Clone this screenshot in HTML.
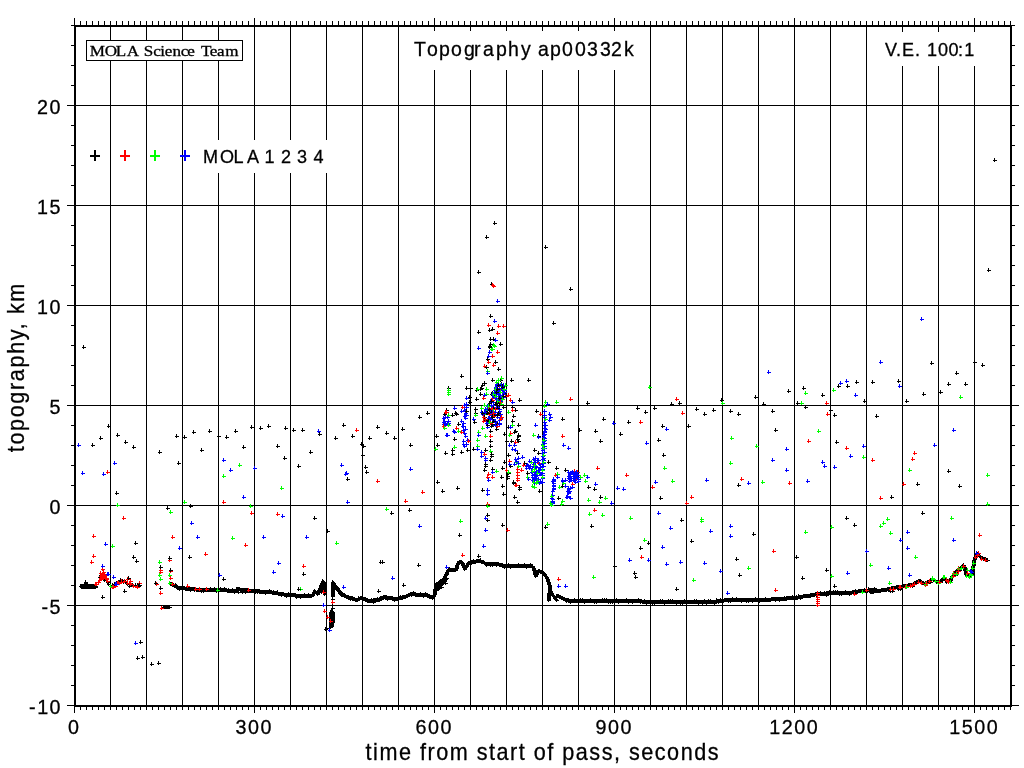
<!DOCTYPE html>
<html><head><meta charset="utf-8"><title>Topography ap00332k</title>
<style>html,body{margin:0;padding:0;background:#fff;}svg{display:block;}</style></head>
<body><svg width="1024" height="768" viewBox="0 0 1024 768" shape-rendering="crispEdges"><path d="M110.5 27V705 M146.5 27V705 M182.5 27V705 M218.5 27V705 M254.5 27V705 M290.5 27V705 M326.5 27V705 M362.5 27V705 M398.5 27V705 M434.5 27V705 M470.5 27V705 M506.5 27V705 M542.5 27V705 M578.5 27V705 M614.5 27V705 M650.5 27V705 M686.5 27V705 M722.5 27V705 M758.5 27V705 M794.5 27V705 M830.5 27V705 M866.5 27V705 M902.5 27V705 M938.5 27V705 M974.5 27V705 M76 105.5H1010 M76 205.5H1010 M76 305.5H1010 M76 405.5H1010 M76 505.5H1010 M76 605.5H1010" stroke="#000" stroke-width="1" fill="none"/><path d="M74.5 18V25 M74.5 707V713 M80.5 21V25 M80.5 707V710 M86.5 21V25 M86.5 707V710 M92.5 21V25 M92.5 707V710 M98.5 21V25 M98.5 707V710 M104.5 21V25 M104.5 707V710 M110.5 21V25 M110.5 707V710 M116.5 21V25 M116.5 707V710 M122.5 21V25 M122.5 707V710 M128.5 21V25 M128.5 707V710 M134.5 21V25 M134.5 707V710 M140.5 21V25 M140.5 707V710 M146.5 21V25 M146.5 707V710 M152.5 21V25 M152.5 707V710 M158.5 21V25 M158.5 707V710 M164.5 21V25 M164.5 707V710 M170.5 21V25 M170.5 707V710 M176.5 21V25 M176.5 707V710 M182.5 21V25 M182.5 707V710 M188.5 21V25 M188.5 707V710 M194.5 21V25 M194.5 707V710 M200.5 21V25 M200.5 707V710 M206.5 21V25 M206.5 707V710 M212.5 21V25 M212.5 707V710 M218.5 21V25 M218.5 707V710 M224.5 21V25 M224.5 707V710 M230.5 21V25 M230.5 707V710 M236.5 21V25 M236.5 707V710 M242.5 21V25 M242.5 707V710 M248.5 21V25 M248.5 707V710 M254.5 18V25 M254.5 707V713 M260.5 21V25 M260.5 707V710 M266.5 21V25 M266.5 707V710 M272.5 21V25 M272.5 707V710 M278.5 21V25 M278.5 707V710 M284.5 21V25 M284.5 707V710 M290.5 21V25 M290.5 707V710 M296.5 21V25 M296.5 707V710 M302.5 21V25 M302.5 707V710 M308.5 21V25 M308.5 707V710 M314.5 21V25 M314.5 707V710 M320.5 21V25 M320.5 707V710 M326.5 21V25 M326.5 707V710 M332.5 21V25 M332.5 707V710 M338.5 21V25 M338.5 707V710 M344.5 21V25 M344.5 707V710 M350.5 21V25 M350.5 707V710 M356.5 21V25 M356.5 707V710 M362.5 21V25 M362.5 707V710 M368.5 21V25 M368.5 707V710 M374.5 21V25 M374.5 707V710 M380.5 21V25 M380.5 707V710 M386.5 21V25 M386.5 707V710 M392.5 21V25 M392.5 707V710 M398.5 21V25 M398.5 707V710 M404.5 21V25 M404.5 707V710 M410.5 21V25 M410.5 707V710 M416.5 21V25 M416.5 707V710 M422.5 21V25 M422.5 707V710 M428.5 21V25 M428.5 707V710 M434.5 18V25 M434.5 707V713 M440.5 21V25 M440.5 707V710 M446.5 21V25 M446.5 707V710 M452.5 21V25 M452.5 707V710 M458.5 21V25 M458.5 707V710 M464.5 21V25 M464.5 707V710 M470.5 21V25 M470.5 707V710 M476.5 21V25 M476.5 707V710 M482.5 21V25 M482.5 707V710 M488.5 21V25 M488.5 707V710 M494.5 21V25 M494.5 707V710 M500.5 21V25 M500.5 707V710 M506.5 21V25 M506.5 707V710 M512.5 21V25 M512.5 707V710 M518.5 21V25 M518.5 707V710 M524.5 21V25 M524.5 707V710 M530.5 21V25 M530.5 707V710 M536.5 21V25 M536.5 707V710 M542.5 21V25 M542.5 707V710 M548.5 21V25 M548.5 707V710 M554.5 21V25 M554.5 707V710 M560.5 21V25 M560.5 707V710 M566.5 21V25 M566.5 707V710 M572.5 21V25 M572.5 707V710 M578.5 21V25 M578.5 707V710 M584.5 21V25 M584.5 707V710 M590.5 21V25 M590.5 707V710 M596.5 21V25 M596.5 707V710 M602.5 21V25 M602.5 707V710 M608.5 21V25 M608.5 707V710 M614.5 18V25 M614.5 707V713 M620.5 21V25 M620.5 707V710 M626.5 21V25 M626.5 707V710 M632.5 21V25 M632.5 707V710 M638.5 21V25 M638.5 707V710 M644.5 21V25 M644.5 707V710 M650.5 21V25 M650.5 707V710 M656.5 21V25 M656.5 707V710 M662.5 21V25 M662.5 707V710 M668.5 21V25 M668.5 707V710 M674.5 21V25 M674.5 707V710 M680.5 21V25 M680.5 707V710 M686.5 21V25 M686.5 707V710 M692.5 21V25 M692.5 707V710 M698.5 21V25 M698.5 707V710 M704.5 21V25 M704.5 707V710 M710.5 21V25 M710.5 707V710 M716.5 21V25 M716.5 707V710 M722.5 21V25 M722.5 707V710 M728.5 21V25 M728.5 707V710 M734.5 21V25 M734.5 707V710 M740.5 21V25 M740.5 707V710 M746.5 21V25 M746.5 707V710 M752.5 21V25 M752.5 707V710 M758.5 21V25 M758.5 707V710 M764.5 21V25 M764.5 707V710 M770.5 21V25 M770.5 707V710 M776.5 21V25 M776.5 707V710 M782.5 21V25 M782.5 707V710 M788.5 21V25 M788.5 707V710 M794.5 18V25 M794.5 707V713 M800.5 21V25 M800.5 707V710 M806.5 21V25 M806.5 707V710 M812.5 21V25 M812.5 707V710 M818.5 21V25 M818.5 707V710 M824.5 21V25 M824.5 707V710 M830.5 21V25 M830.5 707V710 M836.5 21V25 M836.5 707V710 M842.5 21V25 M842.5 707V710 M848.5 21V25 M848.5 707V710 M854.5 21V25 M854.5 707V710 M860.5 21V25 M860.5 707V710 M866.5 21V25 M866.5 707V710 M872.5 21V25 M872.5 707V710 M878.5 21V25 M878.5 707V710 M884.5 21V25 M884.5 707V710 M890.5 21V25 M890.5 707V710 M896.5 21V25 M896.5 707V710 M902.5 21V25 M902.5 707V710 M908.5 21V25 M908.5 707V710 M914.5 21V25 M914.5 707V710 M920.5 21V25 M920.5 707V710 M926.5 21V25 M926.5 707V710 M932.5 21V25 M932.5 707V710 M938.5 21V25 M938.5 707V710 M944.5 21V25 M944.5 707V710 M950.5 21V25 M950.5 707V710 M956.5 21V25 M956.5 707V710 M962.5 21V25 M962.5 707V710 M968.5 21V25 M968.5 707V710 M974.5 18V25 M974.5 707V713 M980.5 21V25 M980.5 707V710 M986.5 21V25 M986.5 707V710 M992.5 21V25 M992.5 707V710 M998.5 21V25 M998.5 707V710 M1004.5 21V25 M1004.5 707V710 M1010.5 21V25 M1010.5 707V710 M67 705.5H74 M1012 705.5H1019 M71 685.5H74 M1012 685.5H1015 M71 665.5H74 M1012 665.5H1015 M71 645.5H74 M1012 645.5H1015 M71 625.5H74 M1012 625.5H1015 M67 605.5H74 M1012 605.5H1019 M71 585.5H74 M1012 585.5H1015 M71 565.5H74 M1012 565.5H1015 M71 545.5H74 M1012 545.5H1015 M71 525.5H74 M1012 525.5H1015 M67 505.5H74 M1012 505.5H1019 M71 485.5H74 M1012 485.5H1015 M71 465.5H74 M1012 465.5H1015 M71 445.5H74 M1012 445.5H1015 M71 425.5H74 M1012 425.5H1015 M67 405.5H74 M1012 405.5H1019 M71 385.5H74 M1012 385.5H1015 M71 365.5H74 M1012 365.5H1015 M71 345.5H74 M1012 345.5H1015 M71 325.5H74 M1012 325.5H1015 M67 305.5H74 M1012 305.5H1019 M71 285.5H74 M1012 285.5H1015 M71 265.5H74 M1012 265.5H1015 M71 245.5H74 M1012 245.5H1015 M71 225.5H74 M1012 225.5H1015 M67 205.5H74 M1012 205.5H1019 M71 185.5H74 M1012 185.5H1015 M71 165.5H74 M1012 165.5H1015 M71 145.5H74 M1012 145.5H1015 M71 125.5H74 M1012 125.5H1015 M67 105.5H74 M1012 105.5H1019 M71 85.5H74 M1012 85.5H1015 M71 65.5H74 M1012 65.5H1015 M71 45.5H74 M1012 45.5H1015 M71 25.5H74 M1012 25.5H1015" stroke="#000" stroke-width="1" fill="none"/><rect x="404" y="31" width="242" height="39" fill="#fff"/><rect x="875" y="32" width="110" height="34" fill="#fff"/><rect x="198" y="140" width="142" height="33" fill="#fff"/><path d="M169 584.5h4M170.5 582v4M170 584.5h4M171.5 582v4M171 585.5h4M172.5 583v4M172 585.5h4M173.5 583v4M173 586.5h4M174.5 584v4M174 586.5h4M175.5 584v4M175 586.5h4M176.5 584v4M176 587.5h4M177.5 585v4M177 588.5h4M178.5 586v4M178 588.5h4M179.5 586v4M179 588.5h4M180.5 586v4M180 588.5h4M181.5 586v4M181 588.5h4M182.5 586v4M182 588.5h4M183.5 586v4M183 588.5h4M184.5 586v4M184 589.5h4M185.5 587v4M185 589.5h4M186.5 587v4M186 589.5h4M187.5 587v4M187 589.5h4M188.5 587v4M188 589.5h4M189.5 587v4M189 589.5h4M190.5 587v4M190 589.5h4M191.5 587v4M191 589.5h4M192.5 587v4M192 589.5h4M193.5 587v4M193 589.5h4M194.5 587v4M194 589.5h4M195.5 587v4M195 590.5h4M196.5 588v4M196 590.5h4M197.5 588v4M197 590.5h4M198.5 588v4M198 590.5h4M199.5 588v4M199 590.5h4M200.5 588v4M200 590.5h4M201.5 588v4M201 590.5h4M202.5 588v4M202 590.5h4M203.5 588v4M203 590.5h4M204.5 588v4M204 590.5h4M205.5 588v4M205 590.5h4M206.5 588v4M206 590.5h4M207.5 588v4M207 590.5h4M208.5 588v4M208 590.5h4M209.5 588v4M209 590.5h4M210.5 588v4M210 590.5h4M211.5 588v4M211 590.5h4M212.5 588v4M212 590.5h4M213.5 588v4M213 590.5h4M214.5 588v4M214 590.5h4M215.5 588v4M215 590.5h4M216.5 588v4M216 590.5h4M217.5 588v4M217 590.5h4M218.5 588v4M218 590.5h4M219.5 588v4M219 590.5h4M220.5 588v4M220 590.5h4M221.5 588v4M221 590.5h4M222.5 588v4M222 590.5h4M223.5 588v4M223 590.5h4M224.5 588v4M224 590.5h4M225.5 588v4M225 590.5h4M226.5 588v4M226 591.5h4M227.5 589v4M227 591.5h4M228.5 589v4M228 591.5h4M229.5 589v4M229 591.5h4M230.5 589v4M230 591.5h4M231.5 589v4M231 591.5h4M232.5 589v4M232 591.5h4M233.5 589v4M233 591.5h4M234.5 589v4M234 591.5h4M235.5 589v4M235 591.5h4M236.5 589v4M162 607.5h4M163.5 605v4M163 607.5h4M164.5 605v4M164 607.5h4M165.5 605v4M165 607.5h4M166.5 605v4M166 607.5h4M167.5 605v4M167 607.5h4M168.5 605v4M168 607.5h4M169.5 605v4M235 589.5h4M236.5 587v4M236 589.5h4M237.5 587v4M237 589.5h4M238.5 587v4M238 589.5h4M239.5 587v4M239 590.5h4M240.5 588v4M240 590.5h4M241.5 588v4M241 590.5h4M242.5 588v4M242 590.5h4M243.5 588v4M243 590.5h4M244.5 588v4M244 590.5h4M245.5 588v4M245 590.5h4M246.5 588v4M246 590.5h4M247.5 588v4M247 591.5h4M248.5 589v4M248 591.5h4M249.5 589v4M249 591.5h4M250.5 589v4M250 591.5h4M251.5 589v4M251 591.5h4M252.5 589v4M252 591.5h4M253.5 589v4M253 591.5h4M254.5 589v4M254 591.5h4M255.5 589v4M255 591.5h4M256.5 589v4M256 591.5h4M257.5 589v4M257 591.5h4M258.5 589v4M258 592.5h4M259.5 590v4M259 592.5h4M260.5 590v4M260 592.5h4M261.5 590v4M261 592.5h4M262.5 590v4M262 592.5h4M263.5 590v4M263 592.5h4M264.5 590v4M264 592.5h4M265.5 590v4M265 592.5h4M266.5 590v4M266 592.5h4M267.5 590v4M267 592.5h4M268.5 590v4M268 592.5h4M269.5 590v4M269 592.5h4M270.5 590v4M270 592.5h4M271.5 590v4M271 593.5h4M272.5 591v4M272 593.5h4M273.5 591v4M273 593.5h4M274.5 591v4M274 593.5h4M275.5 591v4M275 593.5h4M276.5 591v4M276 593.5h4M277.5 591v4M277 594.5h4M278.5 592v4M278 594.5h4M279.5 592v4M279 594.5h4M280.5 592v4M280 594.5h4M281.5 592v4M281 594.5h4M282.5 592v4M282 594.5h4M283.5 592v4M283 595.5h4M284.5 593v4M284 595.5h4M285.5 593v4M285 595.5h4M286.5 593v4M286 595.5h4M287.5 593v4M287 595.5h4M288.5 593v4M288 595.5h4M289.5 593v4M289 595.5h4M290.5 593v4M290 595.5h4M291.5 593v4M291 595.5h4M292.5 593v4M292 595.5h4M293.5 593v4M293 595.5h4M294.5 593v4M294 595.5h4M295.5 593v4M295 596.5h4M296.5 594v4M296 596.5h4M297.5 594v4M297 596.5h4M298.5 594v4M298 596.5h4M299.5 594v4M299 596.5h4M300.5 594v4M300 596.5h4M301.5 594v4M301 596.5h4M302.5 594v4M302 596.5h4M303.5 594v4M303 596.5h4M304.5 594v4M304 596.5h4M305.5 594v4M305 596.5h4M306.5 594v4M306 596.5h4M307.5 594v4M307 596.5h4M308.5 594v4M308 596.5h4M309.5 594v4M309 596.5h4M310.5 594v4M310 596.5h4M311.5 594v4M311 595.5h4M312.5 593v4M311 594.5h4M312.5 592v4M312 593.5h4M313.5 591v4M312 592.5h4M313.5 590v4M313 591.5h4M314.5 589v4M314 592.5h4M315.5 590v4M315 593.5h4M316.5 591v4M316 594.5h4M317.5 592v4M316 593.5h4M317.5 591v4M317 592.5h4M318.5 590v4M317 591.5h4M318.5 589v4M317 590.5h4M318.5 588v4M318 589.5h4M319.5 587v4M318 588.5h4M319.5 586v4M319 587.5h4M320.5 585v4M319 586.5h4M320.5 584v4M319 585.5h4M320.5 583v4M320 584.5h4M321.5 582v4M320 583.5h4M321.5 581v4M321 582.5h4M322.5 580v4M321 581.5h4M322.5 579v4M322 582.5h4M323.5 580v4M323 583.5h4M324.5 581v4M323 584.5h4M324.5 582v4M323 585.5h4M324.5 583v4M323 586.5h4M324.5 584v4M323 587.5h4M324.5 585v4M323 588.5h4M324.5 586v4M323 589.5h4M324.5 587v4M323 590.5h4M324.5 588v4M323 591.5h4M324.5 589v4M323 592.5h4M324.5 590v4M323 593.5h4M324.5 591v4M323 594.5h4M324.5 592v4M320 592.5h4M321.5 590v4M320 591.5h4M321.5 589v4M320 590.5h4M321.5 588v4M320 589.5h4M321.5 587v4M320 588.5h4M321.5 586v4M320 587.5h4M321.5 585v4M320 586.5h4M321.5 584v4M320 585.5h4M321.5 583v4M320 584.5h4M321.5 582v4M321 583.5h4M322.5 581v4M322 582.5h4M323.5 580v4M322 583.5h4M323.5 581v4M322 584.5h4M323.5 582v4M322 585.5h4M323.5 583v4M322 586.5h4M323.5 584v4M322 587.5h4M323.5 585v4M322 588.5h4M323.5 586v4M322 589.5h4M323.5 587v4M322 590.5h4M323.5 588v4M322 591.5h4M323.5 589v4M322 592.5h4M323.5 590v4M331 582.5h4M332.5 580v4M331 583.5h4M332.5 581v4M331 584.5h4M332.5 582v4M331 585.5h4M332.5 583v4M331 586.5h4M332.5 584v4M331 587.5h4M332.5 585v4M331 588.5h4M332.5 586v4M331 589.5h4M332.5 587v4M331 590.5h4M332.5 588v4M331 591.5h4M332.5 589v4M331 592.5h4M332.5 590v4M331 593.5h4M332.5 591v4M331 594.5h4M332.5 592v4M331 595.5h4M332.5 593v4M331 596.5h4M332.5 594v4M332 583.5h4M333.5 581v4M332 584.5h4M333.5 582v4M332 585.5h4M333.5 583v4M333 586.5h4M334.5 584v4M333 587.5h4M334.5 585v4M333 588.5h4M334.5 586v4M333 589.5h4M334.5 587v4M331 596.5h4M332.5 594v4M331 599.5h4M332.5 597v4M331 602.5h4M332.5 600v4M331 605.5h4M332.5 603v4M331 608.5h4M332.5 606v4M330 611.5h4M331.5 609v4M330 612.5h4M331.5 610v4M330 613.5h4M331.5 611v4M330 614.5h4M331.5 612v4M330 615.5h4M331.5 613v4M330 616.5h4M331.5 614v4M330 617.5h4M331.5 615v4M330 618.5h4M331.5 616v4M330 619.5h4M331.5 617v4M330 620.5h4M331.5 618v4M330 621.5h4M331.5 619v4M330 622.5h4M331.5 620v4M330 623.5h4M331.5 621v4M330 624.5h4M331.5 622v4M330 625.5h4M331.5 623v4M330 626.5h4M331.5 624v4M329 612.5h4M330.5 610v4M329 613.5h4M330.5 611v4M329 614.5h4M330.5 612v4M329 615.5h4M330.5 613v4M329 616.5h4M330.5 614v4M329 617.5h4M330.5 615v4M329 618.5h4M330.5 616v4M329 619.5h4M330.5 617v4M329 620.5h4M330.5 618v4M329 621.5h4M330.5 619v4M329 622.5h4M330.5 620v4M329 623.5h4M330.5 621v4M329 624.5h4M330.5 622v4M329 625.5h4M330.5 623v4M329 626.5h4M330.5 624v4M329 627.5h4M330.5 625v4M331 612.5h4M332.5 610v4M331 613.5h4M332.5 611v4M331 614.5h4M332.5 612v4M331 615.5h4M332.5 613v4M331 616.5h4M332.5 614v4M331 617.5h4M332.5 615v4M331 618.5h4M332.5 616v4M331 619.5h4M332.5 617v4M331 620.5h4M332.5 618v4M331 621.5h4M332.5 619v4M331 622.5h4M332.5 620v4M331 586.5h4M332.5 584v4M332 587.5h4M333.5 585v4M333 588.5h4M334.5 586v4M334 588.5h4M335.5 586v4M335 589.5h4M336.5 587v4M336 590.5h4M337.5 588v4M337 591.5h4M338.5 589v4M338 592.5h4M339.5 590v4M339 593.5h4M340.5 591v4M340 594.5h4M341.5 592v4M341 595.5h4M342.5 593v4M342 595.5h4M343.5 593v4M343 596.5h4M344.5 594v4M344 596.5h4M345.5 594v4M345 597.5h4M346.5 595v4M346 597.5h4M347.5 595v4M347 598.5h4M348.5 596v4M348 598.5h4M349.5 596v4M349 598.5h4M350.5 596v4M350 598.5h4M351.5 596v4M351 599.5h4M352.5 597v4M352 599.5h4M353.5 597v4M353 599.5h4M354.5 597v4M354 600.5h4M355.5 598v4M355 600.5h4M356.5 598v4M356 600.5h4M357.5 598v4M357 599.5h4M358.5 597v4M358 599.5h4M359.5 597v4M359 598.5h4M360.5 596v4M360 598.5h4M361.5 596v4M361 598.5h4M362.5 596v4M362 599.5h4M363.5 597v4M363 599.5h4M364.5 597v4M364 600.5h4M365.5 598v4M365 600.5h4M366.5 598v4M366 600.5h4M367.5 598v4M367 601.5h4M368.5 599v4M368 601.5h4M369.5 599v4M369 601.5h4M370.5 599v4M370 601.5h4M371.5 599v4M371 601.5h4M372.5 599v4M372 600.5h4M373.5 598v4M373 600.5h4M374.5 598v4M374 600.5h4M375.5 598v4M375 600.5h4M376.5 598v4M376 600.5h4M377.5 598v4M377 600.5h4M378.5 598v4M378 599.5h4M379.5 597v4M379 598.5h4M380.5 596v4M380 598.5h4M381.5 596v4M381 598.5h4M382.5 596v4M382 597.5h4M383.5 595v4M383 597.5h4M384.5 595v4M384 597.5h4M385.5 595v4M385 597.5h4M386.5 595v4M386 598.5h4M387.5 596v4M387 598.5h4M388.5 596v4M388 598.5h4M389.5 596v4M389 598.5h4M390.5 596v4M390 598.5h4M391.5 596v4M391 598.5h4M392.5 596v4M392 599.5h4M393.5 597v4M393 599.5h4M394.5 597v4M394 599.5h4M395.5 597v4M395 599.5h4M396.5 597v4M333 585.5h4M334.5 583v4M334 586.5h4M335.5 584v4M335 587.5h4M336.5 585v4M336 588.5h4M337.5 586v4M336 589.5h4M337.5 587v4M337 590.5h4M338.5 588v4M338 591.5h4M339.5 589v4M339 592.5h4M340.5 590v4M395 599.5h4M396.5 597v4M396 599.5h4M397.5 597v4M397 598.5h4M398.5 596v4M398 598.5h4M399.5 596v4M399 598.5h4M400.5 596v4M400 598.5h4M401.5 596v4M401 598.5h4M402.5 596v4M402 597.5h4M403.5 595v4M403 597.5h4M404.5 595v4M404 597.5h4M405.5 595v4M405 596.5h4M406.5 594v4M406 596.5h4M407.5 594v4M407 595.5h4M408.5 593v4M408 595.5h4M409.5 593v4M409 594.5h4M410.5 592v4M410 594.5h4M411.5 592v4M411 594.5h4M412.5 592v4M412 594.5h4M413.5 592v4M413 594.5h4M414.5 592v4M414 594.5h4M415.5 592v4M415 595.5h4M416.5 593v4M416 595.5h4M417.5 593v4M417 595.5h4M418.5 593v4M418 595.5h4M419.5 593v4M419 595.5h4M420.5 593v4M420 595.5h4M421.5 593v4M421 595.5h4M422.5 593v4M422 595.5h4M423.5 593v4M423 595.5h4M424.5 593v4M424 595.5h4M425.5 593v4M425 595.5h4M426.5 593v4M426 595.5h4M427.5 593v4M427 596.5h4M428.5 594v4M428 596.5h4M429.5 594v4M429 597.5h4M430.5 595v4M430 597.5h4M431.5 595v4M431 598.5h4M432.5 596v4M431 597.5h4M432.5 595v4M432 596.5h4M433.5 594v4M432 595.5h4M433.5 593v4M433 594.5h4M434.5 592v4M433 593.5h4M434.5 591v4M433 592.5h4M434.5 590v4M433 591.5h4M434.5 589v4M433 590.5h4M434.5 588v4M433 589.5h4M434.5 587v4M434 588.5h4M435.5 586v4M434 587.5h4M435.5 585v4M434 586.5h4M435.5 584v4M434 585.5h4M435.5 583v4M435 584.5h4M436.5 582v4M436 584.5h4M437.5 582v4M437 583.5h4M438.5 581v4M438 582.5h4M439.5 580v4M439 581.5h4M440.5 579v4M440 581.5h4M441.5 579v4M441 580.5h4M442.5 578v4M442 579.5h4M443.5 577v4M443 578.5h4M444.5 576v4M443 577.5h4M444.5 575v4M443 576.5h4M444.5 574v4M444 575.5h4M445.5 573v4M445 574.5h4M446.5 572v4M445 573.5h4M446.5 571v4M445 572.5h4M446.5 570v4M446 571.5h4M447.5 569v4M447 570.5h4M448.5 568v4M447 569.5h4M448.5 567v4M448 569.5h4M449.5 567v4M449 570.5h4M450.5 568v4M450 570.5h4M451.5 568v4M451 570.5h4M452.5 568v4M452 570.5h4M453.5 568v4M453 570.5h4M454.5 568v4M454 570.5h4M455.5 568v4M454 569.5h4M455.5 567v4M455 568.5h4M456.5 566v4M455 567.5h4M456.5 565v4M455 566.5h4M456.5 564v4M455 565.5h4M456.5 563v4M456 564.5h4M457.5 562v4M456 563.5h4M457.5 561v4M457 563.5h4M458.5 561v4M458 562.5h4M459.5 560v4M459 562.5h4M460.5 560v4M460 562.5h4M461.5 560v4M461 563.5h4M462.5 561v4M461 564.5h4M462.5 562v4M461 565.5h4M462.5 563v4M462 566.5h4M463.5 564v4M462 567.5h4M463.5 565v4M463 568.5h4M464.5 566v4M463 569.5h4M464.5 567v4M463 568.5h4M464.5 566v4M464 567.5h4M465.5 565v4M465 566.5h4M466.5 564v4M465 565.5h4M466.5 563v4M466 564.5h4M467.5 562v4M467 563.5h4M468.5 561v4M468 563.5h4M469.5 561v4M469 562.5h4M470.5 560v4M470 562.5h4M471.5 560v4M471 562.5h4M472.5 560v4M472 562.5h4M473.5 560v4M473 562.5h4M474.5 560v4M474 562.5h4M475.5 560v4M475 561.5h4M476.5 559v4M476 561.5h4M477.5 559v4M477 561.5h4M478.5 559v4M478 561.5h4M479.5 559v4M479 561.5h4M480.5 559v4M480 562.5h4M481.5 560v4M481 562.5h4M482.5 560v4M482 562.5h4M483.5 560v4M483 563.5h4M484.5 561v4M484 564.5h4M485.5 562v4M485 564.5h4M486.5 562v4M486 564.5h4M487.5 562v4M487 564.5h4M488.5 562v4M488 564.5h4M489.5 562v4M489 564.5h4M490.5 562v4M490 564.5h4M491.5 562v4M491 564.5h4M492.5 562v4M492 564.5h4M493.5 562v4M493 564.5h4M494.5 562v4M494 564.5h4M495.5 562v4M495 564.5h4M496.5 562v4M496 564.5h4M497.5 562v4M497 564.5h4M498.5 562v4M498 565.5h4M499.5 563v4M499 565.5h4M500.5 563v4M500 565.5h4M501.5 563v4M501 566.5h4M502.5 564v4M502 566.5h4M503.5 564v4M503 566.5h4M504.5 564v4M504 566.5h4M505.5 564v4M505 566.5h4M506.5 564v4M506 566.5h4M507.5 564v4M507 566.5h4M508.5 564v4M508 566.5h4M509.5 564v4M509 566.5h4M510.5 564v4M510 566.5h4M511.5 564v4M511 566.5h4M512.5 564v4M512 566.5h4M513.5 564v4M513 566.5h4M514.5 564v4M514 566.5h4M515.5 564v4M515 566.5h4M516.5 564v4M516 566.5h4M517.5 564v4M517 566.5h4M518.5 564v4M518 566.5h4M519.5 564v4M519 566.5h4M520.5 564v4M520 566.5h4M521.5 564v4M521 566.5h4M522.5 564v4M522 566.5h4M523.5 564v4M523 566.5h4M524.5 564v4M524 566.5h4M525.5 564v4M525 566.5h4M526.5 564v4M526 566.5h4M527.5 564v4M527 566.5h4M528.5 564v4M528 566.5h4M529.5 564v4M529 566.5h4M530.5 564v4M530 566.5h4M531.5 564v4M531 566.5h4M532.5 564v4M531 567.5h4M532.5 565v4M532 568.5h4M533.5 566v4M532 569.5h4M533.5 567v4M532 570.5h4M533.5 568v4M533 571.5h4M534.5 569v4M533 572.5h4M534.5 570v4M533 573.5h4M534.5 571v4M533 574.5h4M534.5 572v4M534 575.5h4M535.5 573v4M534 576.5h4M535.5 574v4M534 575.5h4M535.5 573v4M535 574.5h4M536.5 572v4M535 573.5h4M536.5 571v4M535 572.5h4M536.5 570v4M536 572.5h4M537.5 570v4M537 571.5h4M538.5 569v4M538 571.5h4M539.5 569v4M539 572.5h4M540.5 570v4M540 572.5h4M541.5 570v4M541 572.5h4M542.5 570v4M542 573.5h4M543.5 571v4M543 574.5h4M544.5 572v4M543 575.5h4M544.5 573v4M544 576.5h4M545.5 574v4M545 577.5h4M546.5 575v4M545 578.5h4M546.5 576v4M546 579.5h4M547.5 577v4M546 580.5h4M547.5 578v4M546 581.5h4M547.5 579v4M547 582.5h4M548.5 580v4M547 583.5h4M548.5 581v4M547 584.5h4M548.5 582v4M548 585.5h4M549.5 583v4M548 586.5h4M549.5 584v4M548 587.5h4M549.5 585v4M548 588.5h4M549.5 586v4M548 589.5h4M549.5 587v4M548 590.5h4M549.5 588v4M548 591.5h4M549.5 589v4M548 592.5h4M549.5 590v4M547 593.5h4M548.5 591v4M547 594.5h4M548.5 592v4M547 595.5h4M548.5 593v4M547 596.5h4M548.5 594v4M547 597.5h4M548.5 595v4M547 598.5h4M548.5 596v4M547 599.5h4M548.5 597v4M547 600.5h4M548.5 598v4M435 590.5h4M436.5 588v4M436 589.5h4M437.5 587v4M437 588.5h4M438.5 586v4M437 587.5h4M438.5 585v4M438 586.5h4M439.5 584v4M439 585.5h4M440.5 583v4M440 584.5h4M441.5 582v4M441 583.5h4M442.5 581v4M442 582.5h4M443.5 580v4M443 581.5h4M444.5 579v4M443 580.5h4M444.5 578v4M444 579.5h4M445.5 577v4M445 578.5h4M446.5 576v4M548 590.5h4M549.5 588v4M549 591.5h4M550.5 589v4M549 592.5h4M550.5 590v4M550 593.5h4M551.5 591v4M550 594.5h4M551.5 592v4M551 595.5h4M552.5 593v4M552 596.5h4M553.5 594v4M553 597.5h4M554.5 595v4M553 598.5h4M554.5 596v4M554 599.5h4M555.5 597v4M555 600.5h4M556.5 598v4" stroke="#000" stroke-width="1" fill="none"/><path d="M543 411.5h4M544.5 409v4M543 415.5h4M544.5 413v4M543 417.5h4M544.5 415v4M543 422.5h4M544.5 420v4M543 425.5h4M544.5 423v4M543 428.5h4M544.5 426v4M543 431.5h4M544.5 429v4M542 435.5h4M543.5 433v4M542 437.5h4M543.5 435v4M542 441.5h4M543.5 439v4M541 444.5h4M542.5 442v4M541 448.5h4M542.5 446v4M541 450.5h4M542.5 448v4M541 453.5h4M542.5 451v4M541 456.5h4M542.5 454v4M541 459.5h4M542.5 457v4M541 463.5h4M542.5 461v4M541 466.5h4M542.5 464v4M541 469.5h4M542.5 467v4M541 473.5h4M542.5 471v4M541 475.5h4M542.5 473v4M541 478.5h4M542.5 476v4M541 482.5h4M542.5 480v4M552 480.5h4M553.5 478v4M552 483.5h4M553.5 481v4M552 486.5h4M553.5 484v4M552 489.5h4M553.5 487v4M551 495.5h4M552.5 493v4M551 499.5h4M552.5 497v4" stroke="#00f" stroke-width="1" fill="none"/><path d="M555 596.5h4M556.5 594v4M556 596.5h4M557.5 594v4M557 596.5h4M558.5 594v4M558 597.5h4M559.5 595v4M559 597.5h4M560.5 595v4M560 598.5h4M561.5 596v4M561 598.5h4M562.5 596v4M562 599.5h4M563.5 597v4M563 599.5h4M564.5 597v4M564 600.5h4M565.5 598v4M565 600.5h4M566.5 598v4M566 600.5h4M567.5 598v4M567 600.5h4M568.5 598v4M568 601.5h4M569.5 599v4M569 601.5h4M570.5 599v4M570 601.5h4M571.5 599v4M571 601.5h4M572.5 599v4M572 601.5h4M573.5 599v4M573 601.5h4M574.5 599v4M574 601.5h4M575.5 599v4M575 601.5h4M576.5 599v4M576 601.5h4M577.5 599v4M577 601.5h4M578.5 599v4M578 601.5h4M579.5 599v4M579 601.5h4M580.5 599v4M580 601.5h4M581.5 599v4M581 601.5h4M582.5 599v4M582 601.5h4M583.5 599v4M583 601.5h4M584.5 599v4M584 601.5h4M585.5 599v4M585 601.5h4M586.5 599v4M586 601.5h4M587.5 599v4M587 601.5h4M588.5 599v4M588 601.5h4M589.5 599v4M589 601.5h4M590.5 599v4M590 601.5h4M591.5 599v4M591 601.5h4M592.5 599v4M592 601.5h4M593.5 599v4M593 601.5h4M594.5 599v4M594 601.5h4M595.5 599v4M595 601.5h4M596.5 599v4M596 601.5h4M597.5 599v4M597 601.5h4M598.5 599v4M598 601.5h4M599.5 599v4M599 601.5h4M600.5 599v4M600 601.5h4M601.5 599v4M601 601.5h4M602.5 599v4M602 601.5h4M603.5 599v4M603 601.5h4M604.5 599v4M604 601.5h4M605.5 599v4M605 601.5h4M606.5 599v4M606 601.5h4M607.5 599v4M607 601.5h4M608.5 599v4M608 601.5h4M609.5 599v4M609 601.5h4M610.5 599v4M610 601.5h4M611.5 599v4M611 601.5h4M612.5 599v4M612 601.5h4M613.5 599v4M613 601.5h4M614.5 599v4M614 601.5h4M615.5 599v4M615 601.5h4M616.5 599v4M616 601.5h4M617.5 599v4M617 601.5h4M618.5 599v4M618 601.5h4M619.5 599v4M619 601.5h4M620.5 599v4M620 601.5h4M621.5 599v4M621 601.5h4M622.5 599v4M622 601.5h4M623.5 599v4M623 601.5h4M624.5 599v4M624 601.5h4M625.5 599v4M625 601.5h4M626.5 599v4M626 601.5h4M627.5 599v4M627 601.5h4M628.5 599v4M628 601.5h4M629.5 599v4M629 601.5h4M630.5 599v4M630 601.5h4M631.5 599v4M631 601.5h4M632.5 599v4M632 601.5h4M633.5 599v4M633 601.5h4M634.5 599v4M634 601.5h4M635.5 599v4M635 601.5h4M636.5 599v4M636 601.5h4M637.5 599v4M637 601.5h4M638.5 599v4M638 601.5h4M639.5 599v4M639 601.5h4M640.5 599v4M640 601.5h4M641.5 599v4M641 602.5h4M642.5 600v4M642 602.5h4M643.5 600v4M643 602.5h4M644.5 600v4M644 602.5h4M645.5 600v4M645 602.5h4M646.5 600v4M646 602.5h4M647.5 600v4M647 602.5h4M648.5 600v4M648 602.5h4M649.5 600v4M649 602.5h4M650.5 600v4M650 602.5h4M651.5 600v4M651 602.5h4M652.5 600v4M652 602.5h4M653.5 600v4M653 602.5h4M654.5 600v4M654 602.5h4M655.5 600v4M655 602.5h4M656.5 600v4M656 602.5h4M657.5 600v4M657 602.5h4M658.5 600v4M658 602.5h4M659.5 600v4M659 602.5h4M660.5 600v4M660 602.5h4M661.5 600v4M661 602.5h4M662.5 600v4M662 602.5h4M663.5 600v4M663 602.5h4M664.5 600v4M664 602.5h4M665.5 600v4M665 602.5h4M666.5 600v4M666 602.5h4M667.5 600v4M667 602.5h4M668.5 600v4M668 602.5h4M669.5 600v4M669 602.5h4M670.5 600v4M670 602.5h4M671.5 600v4M671 602.5h4M672.5 600v4M672 602.5h4M673.5 600v4M673 602.5h4M674.5 600v4M674 602.5h4M675.5 600v4M675 602.5h4M676.5 600v4M676 602.5h4M677.5 600v4M677 602.5h4M678.5 600v4M678 602.5h4M679.5 600v4M679 602.5h4M680.5 600v4M680 602.5h4M681.5 600v4M681 602.5h4M682.5 600v4M682 602.5h4M683.5 600v4M683 602.5h4M684.5 600v4M684 602.5h4M685.5 600v4M685 602.5h4M686.5 600v4M686 602.5h4M687.5 600v4M687 602.5h4M688.5 600v4M688 602.5h4M689.5 600v4M689 602.5h4M690.5 600v4M690 602.5h4M691.5 600v4M691 602.5h4M692.5 600v4M692 602.5h4M693.5 600v4M693 602.5h4M694.5 600v4M694 602.5h4M695.5 600v4M695 602.5h4M696.5 600v4M696 602.5h4M697.5 600v4M697 602.5h4M698.5 600v4M698 602.5h4M699.5 600v4M699 602.5h4M700.5 600v4M700 602.5h4M701.5 600v4M701 602.5h4M702.5 600v4M702 602.5h4M703.5 600v4M703 602.5h4M704.5 600v4M704 602.5h4M705.5 600v4M705 602.5h4M706.5 600v4M706 602.5h4M707.5 600v4M707 602.5h4M708.5 600v4M708 602.5h4M709.5 600v4M709 602.5h4M710.5 600v4M710 602.5h4M711.5 600v4M711 602.5h4M712.5 600v4M712 602.5h4M713.5 600v4M713 602.5h4M714.5 600v4M714 602.5h4M715.5 600v4M715 602.5h4M716.5 600v4M565 601.5h4M566.5 599v4M567 601.5h4M568.5 599v4M569 602.5h4M570.5 600v4M571 601.5h4M572.5 599v4M573 600.5h4M574.5 598v4M575 601.5h4M576.5 599v4M577 600.5h4M578.5 598v4M579 600.5h4M580.5 598v4M581 600.5h4M582.5 598v4M583 602.5h4M584.5 600v4M585 601.5h4M586.5 599v4M587 601.5h4M588.5 599v4M589 600.5h4M590.5 598v4M591 601.5h4M592.5 599v4M593 602.5h4M594.5 600v4M595 602.5h4M596.5 600v4M597 601.5h4M598.5 599v4M599 601.5h4M600.5 599v4M601 600.5h4M602.5 598v4M603 600.5h4M604.5 598v4M605 600.5h4M606.5 598v4M607 602.5h4M608.5 600v4M609 602.5h4M610.5 600v4M611 602.5h4M612.5 600v4M613 601.5h4M614.5 599v4M615 600.5h4M616.5 598v4M617 602.5h4M618.5 600v4M619 601.5h4M620.5 599v4M621 601.5h4M622.5 599v4M623 601.5h4M624.5 599v4M625 600.5h4M626.5 598v4M627 602.5h4M628.5 600v4M629 601.5h4M630.5 599v4M631 602.5h4M632.5 600v4M633 601.5h4M634.5 599v4M635 601.5h4M636.5 599v4M637 600.5h4M638.5 598v4M639 602.5h4M640.5 600v4M641 602.5h4M642.5 600v4M643 601.5h4M644.5 599v4M645 603.5h4M646.5 601v4M647 602.5h4M648.5 600v4M649 602.5h4M650.5 600v4M651 603.5h4M652.5 601v4M653 603.5h4M654.5 601v4M655 602.5h4M656.5 600v4M657 602.5h4M658.5 600v4M659 601.5h4M660.5 599v4M661 601.5h4M662.5 599v4M663 603.5h4M664.5 601v4M665 602.5h4M666.5 600v4M667 601.5h4M668.5 599v4M669 601.5h4M670.5 599v4M671 601.5h4M672.5 599v4M673 602.5h4M674.5 600v4M675 603.5h4M676.5 601v4M677 602.5h4M678.5 600v4M679 603.5h4M680.5 601v4M681 603.5h4M682.5 601v4M683 601.5h4M684.5 599v4M685 603.5h4M686.5 601v4M687 602.5h4M688.5 600v4M689 602.5h4M690.5 600v4M691 602.5h4M692.5 600v4M693 601.5h4M694.5 599v4M695 601.5h4M696.5 599v4M697 603.5h4M698.5 601v4M699 602.5h4M700.5 600v4M701 603.5h4M702.5 601v4M703 601.5h4M704.5 599v4M705 603.5h4M706.5 601v4M707 601.5h4M708.5 599v4M709 601.5h4M710.5 599v4M711 602.5h4M712.5 600v4M713 603.5h4M714.5 601v4M715 601.5h4M716.5 599v4M716 601.5h4M717.5 599v4M717 601.5h4M718.5 599v4M718 601.5h4M719.5 599v4M719 601.5h4M720.5 599v4M720 601.5h4M721.5 599v4M721 601.5h4M722.5 599v4M722 601.5h4M723.5 599v4M723 600.5h4M724.5 598v4M724 600.5h4M725.5 598v4M725 600.5h4M726.5 598v4M726 600.5h4M727.5 598v4M727 600.5h4M728.5 598v4M728 600.5h4M729.5 598v4M729 600.5h4M730.5 598v4M730 600.5h4M731.5 598v4M731 600.5h4M732.5 598v4M732 600.5h4M733.5 598v4M733 600.5h4M734.5 598v4M734 600.5h4M735.5 598v4M735 600.5h4M736.5 598v4M736 600.5h4M737.5 598v4M737 600.5h4M738.5 598v4M738 600.5h4M739.5 598v4M739 600.5h4M740.5 598v4M740 600.5h4M741.5 598v4M741 600.5h4M742.5 598v4M742 600.5h4M743.5 598v4M743 600.5h4M744.5 598v4M744 600.5h4M745.5 598v4M745 600.5h4M746.5 598v4M746 600.5h4M747.5 598v4M747 600.5h4M748.5 598v4M748 600.5h4M749.5 598v4M749 600.5h4M750.5 598v4M750 600.5h4M751.5 598v4M751 600.5h4M752.5 598v4M752 600.5h4M753.5 598v4M753 600.5h4M754.5 598v4M754 600.5h4M755.5 598v4M755 600.5h4M756.5 598v4M756 600.5h4M757.5 598v4M757 600.5h4M758.5 598v4M758 600.5h4M759.5 598v4M759 600.5h4M760.5 598v4M760 600.5h4M761.5 598v4M761 600.5h4M762.5 598v4M762 600.5h4M763.5 598v4M763 600.5h4M764.5 598v4M764 600.5h4M765.5 598v4M765 600.5h4M766.5 598v4M766 600.5h4M767.5 598v4M767 600.5h4M768.5 598v4M768 600.5h4M769.5 598v4M769 600.5h4M770.5 598v4M770 599.5h4M771.5 597v4M771 599.5h4M772.5 597v4M772 599.5h4M773.5 597v4M773 599.5h4M774.5 597v4M774 599.5h4M775.5 597v4M775 599.5h4M776.5 597v4M776 599.5h4M777.5 597v4M777 599.5h4M778.5 597v4M778 599.5h4M779.5 597v4M779 599.5h4M780.5 597v4M780 599.5h4M781.5 597v4M781 599.5h4M782.5 597v4M782 599.5h4M783.5 597v4M783 599.5h4M784.5 597v4M784 599.5h4M785.5 597v4M785 599.5h4M786.5 597v4M786 598.5h4M787.5 596v4M787 598.5h4M788.5 596v4M788 598.5h4M789.5 596v4M789 598.5h4M790.5 596v4M790 598.5h4M791.5 596v4M791 598.5h4M792.5 596v4M792 598.5h4M793.5 596v4M793 598.5h4M794.5 596v4M794 598.5h4M795.5 596v4M795 598.5h4M796.5 596v4M796 598.5h4M797.5 596v4M797 597.5h4M798.5 595v4M798 597.5h4M799.5 595v4M799 597.5h4M800.5 595v4M800 597.5h4M801.5 595v4M801 597.5h4M802.5 595v4M802 596.5h4M803.5 594v4M803 596.5h4M804.5 594v4M804 596.5h4M805.5 594v4M805 596.5h4M806.5 594v4M806 596.5h4M807.5 594v4M807 596.5h4M808.5 594v4M808 596.5h4M809.5 594v4M809 595.5h4M810.5 593v4M810 595.5h4M811.5 593v4M811 595.5h4M812.5 593v4M812 595.5h4M813.5 593v4M813 595.5h4M814.5 593v4M814 594.5h4M815.5 592v4M815 594.5h4M816.5 592v4M816 594.5h4M817.5 592v4M817 594.5h4M818.5 592v4M818 594.5h4M819.5 592v4M819 594.5h4M820.5 592v4M820 594.5h4M821.5 592v4M821 594.5h4M822.5 592v4M822 594.5h4M823.5 592v4M823 594.5h4M824.5 592v4M824 594.5h4M825.5 592v4M825 593.5h4M826.5 591v4M826 593.5h4M827.5 591v4M827 593.5h4M828.5 591v4M828 593.5h4M829.5 591v4M829 593.5h4M830.5 591v4M830 593.5h4M831.5 591v4M831 593.5h4M832.5 591v4M832 593.5h4M833.5 591v4M833 593.5h4M834.5 591v4M834 593.5h4M835.5 591v4M835 593.5h4M836.5 591v4M836 593.5h4M837.5 591v4M837 593.5h4M838.5 591v4M838 593.5h4M839.5 591v4M839 593.5h4M840.5 591v4M840 593.5h4M841.5 591v4M841 593.5h4M842.5 591v4M842 593.5h4M843.5 591v4M843 593.5h4M844.5 591v4M844 593.5h4M845.5 591v4M845 593.5h4M846.5 591v4M846 593.5h4M847.5 591v4M847 593.5h4M848.5 591v4M848 593.5h4M849.5 591v4M849 593.5h4M850.5 591v4M850 593.5h4M851.5 591v4M851 592.5h4M852.5 590v4M852 592.5h4M853.5 590v4M853 592.5h4M854.5 590v4M854 592.5h4M855.5 590v4M855 592.5h4M856.5 590v4M856 592.5h4M857.5 590v4M857 591.5h4M858.5 589v4M858 591.5h4M859.5 589v4M859 591.5h4M860.5 589v4M860 591.5h4M861.5 589v4M861 591.5h4M862.5 589v4M862 591.5h4M863.5 589v4M863 591.5h4M864.5 589v4M864 591.5h4M865.5 589v4M865 591.5h4M866.5 589v4M866 591.5h4M867.5 589v4M867 590.5h4M868.5 588v4M868 590.5h4M869.5 588v4M869 590.5h4M870.5 588v4M870 590.5h4M871.5 588v4M871 590.5h4M872.5 588v4M872 590.5h4M873.5 588v4M873 590.5h4M874.5 588v4M874 590.5h4M875.5 588v4M875 590.5h4M876.5 588v4M715 600.5h4M716.5 598v4M717 602.5h4M718.5 600v4M719 600.5h4M720.5 598v4M721 600.5h4M722.5 598v4M723 600.5h4M724.5 598v4M725 600.5h4M726.5 598v4M727 601.5h4M728.5 599v4M729 601.5h4M730.5 599v4M731 599.5h4M732.5 597v4M733 600.5h4M734.5 598v4M735 599.5h4M736.5 597v4M737 600.5h4M738.5 598v4M740 601.5h4M741.5 599v4M742 600.5h4M743.5 598v4M744 600.5h4M745.5 598v4M745 601.5h4M746.5 599v4M747 601.5h4M748.5 599v4M750 600.5h4M751.5 598v4M751 601.5h4M752.5 599v4M754 599.5h4M755.5 597v4M755 600.5h4M756.5 598v4M758 601.5h4M759.5 599v4M760 600.5h4M761.5 598v4M762 600.5h4M763.5 598v4M764 599.5h4M765.5 597v4M766 600.5h4M767.5 598v4M768 600.5h4M769.5 598v4M770 599.5h4M771.5 597v4M772 599.5h4M773.5 597v4M774 600.5h4M775.5 598v4M776 599.5h4M777.5 597v4M778 600.5h4M779.5 598v4M781 599.5h4M782.5 597v4M783 598.5h4M784.5 596v4M785 598.5h4M786.5 596v4M787 598.5h4M788.5 596v4M789 598.5h4M790.5 596v4M791 597.5h4M792.5 595v4M793 599.5h4M794.5 597v4M795 597.5h4M796.5 595v4M797 596.5h4M798.5 594v4M799 598.5h4M800.5 596v4M801 597.5h4M802.5 595v4M803 596.5h4M804.5 594v4M805 596.5h4M806.5 594v4M807 596.5h4M808.5 594v4M809 596.5h4M810.5 594v4M811 595.5h4M812.5 593v4M813 595.5h4M814.5 593v4M815 595.5h4M816.5 593v4M817 594.5h4M818.5 592v4M819 593.5h4M820.5 591v4M821 594.5h4M822.5 592v4M823 593.5h4M824.5 591v4M825 595.5h4M826.5 593v4M828 592.5h4M829.5 590v4M830 593.5h4M831.5 591v4M832 592.5h4M833.5 590v4M834 592.5h4M835.5 590v4M836 592.5h4M837.5 590v4M838 594.5h4M839.5 592v4M840 594.5h4M841.5 592v4M842 593.5h4M843.5 591v4M844 592.5h4M845.5 590v4M846 593.5h4M847.5 591v4M848 594.5h4M849.5 592v4M850 593.5h4M851.5 591v4M852 592.5h4M853.5 590v4M854 591.5h4M855.5 589v4M857 591.5h4M858.5 589v4M859 591.5h4M860.5 589v4M861 591.5h4M862.5 589v4M863 590.5h4M864.5 588v4M865 589.5h4M866.5 587v4M867 589.5h4M868.5 587v4M869 592.5h4M870.5 590v4M871 590.5h4M872.5 588v4M873 589.5h4M874.5 587v4" stroke="#000" stroke-width="1" fill="none"/><path d="M816 593.5h4M817.5 591v4M816 595.5h4M817.5 593v4M816 597.5h4M817.5 595v4M816 599.5h4M817.5 597v4M816 601.5h4M817.5 599v4M816 603.5h4M817.5 601v4M816 605.5h4M817.5 603v4" stroke="#f00" stroke-width="1" fill="none"/><path d="M869 592.5h4M870.5 590v4M870 592.5h4M871.5 590v4M871 592.5h4M872.5 590v4M872 592.5h4M873.5 590v4M873 591.5h4M874.5 589v4M874 591.5h4M875.5 589v4M875 591.5h4M876.5 589v4M876 591.5h4M877.5 589v4M877 591.5h4M878.5 589v4M878 591.5h4M879.5 589v4M879 591.5h4M880.5 589v4M880 590.5h4M881.5 588v4M881 590.5h4M882.5 588v4M882 590.5h4M883.5 588v4M883 590.5h4M884.5 588v4M884 590.5h4M885.5 588v4M885 590.5h4M886.5 588v4M886 589.5h4M887.5 587v4M887 589.5h4M888.5 587v4M888 589.5h4M889.5 587v4M889 589.5h4M890.5 587v4M890 588.5h4M891.5 586v4M891 588.5h4M892.5 586v4M892 588.5h4M893.5 586v4M893 588.5h4M894.5 586v4M894 588.5h4M895.5 586v4M895 587.5h4M896.5 585v4M896 587.5h4M897.5 585v4M897 587.5h4M898.5 585v4M898 587.5h4M899.5 585v4M899 587.5h4M900.5 585v4M900 587.5h4M901.5 585v4M901 586.5h4M902.5 584v4M902 586.5h4M903.5 584v4M903 586.5h4M904.5 584v4M904 586.5h4M905.5 584v4M905 586.5h4M906.5 584v4M906 586.5h4M907.5 584v4M907 586.5h4M908.5 584v4M908 585.5h4M909.5 583v4M909 585.5h4M910.5 583v4M910 585.5h4M911.5 583v4M911 585.5h4M912.5 583v4M912 584.5h4M913.5 582v4M913 584.5h4M914.5 582v4M914 583.5h4M915.5 581v4M915 582.5h4M916.5 580v4M916 582.5h4M917.5 580v4M917 581.5h4M918.5 579v4M918 581.5h4M919.5 579v4M919 582.5h4M920.5 580v4M920 582.5h4M921.5 580v4M921 583.5h4M922.5 581v4M922 583.5h4M923.5 581v4M923 584.5h4M924.5 582v4M924 584.5h4M925.5 582v4M925 583.5h4M926.5 581v4M926 583.5h4M927.5 581v4M927 582.5h4M928.5 580v4M928 581.5h4M929.5 579v4M929 580.5h4M930.5 578v4M930 580.5h4M931.5 578v4M931 579.5h4M932.5 577v4M932 580.5h4M933.5 578v4M933 580.5h4M934.5 578v4M934 581.5h4M935.5 579v4M935 582.5h4M936.5 580v4M936 582.5h4M937.5 580v4M937 583.5h4M938.5 581v4M938 582.5h4M939.5 580v4M939 581.5h4M940.5 579v4M940 580.5h4M941.5 578v4M941 579.5h4M942.5 577v4M942 578.5h4M943.5 576v4M943 579.5h4M944.5 577v4M944 580.5h4M945.5 578v4M945 580.5h4M946.5 578v4M946 581.5h4M947.5 579v4M947 582.5h4M948.5 580v4M948 581.5h4M949.5 579v4M948 580.5h4M949.5 578v4M949 579.5h4M950.5 577v4M949 578.5h4M950.5 576v4M950 577.5h4M951.5 575v4M951 576.5h4M952.5 574v4M951 575.5h4M952.5 573v4M952 574.5h4M953.5 572v4M953 573.5h4M954.5 571v4M954 572.5h4M955.5 570v4M955 571.5h4M956.5 569v4M956 570.5h4M957.5 568v4M957 570.5h4M958.5 568v4M958 569.5h4M959.5 567v4M959 568.5h4M960.5 566v4M960 567.5h4M961.5 565v4M961 566.5h4M962.5 564v4M962 565.5h4M963.5 563v4M962 566.5h4M963.5 564v4M963 567.5h4M964.5 565v4M963 568.5h4M964.5 566v4M963 569.5h4M964.5 567v4M963 570.5h4M964.5 568v4M964 571.5h4M965.5 569v4M964 572.5h4M965.5 570v4M964 573.5h4M965.5 571v4M965 574.5h4M966.5 572v4M965 575.5h4M966.5 573v4M966 575.5h4M967.5 573v4M967 575.5h4M968.5 573v4M968 575.5h4M969.5 573v4M969 575.5h4M970.5 573v4M970 575.5h4M971.5 573v4M970 574.5h4M971.5 572v4M970 573.5h4M971.5 571v4M970 572.5h4M971.5 570v4M971 571.5h4M972.5 569v4M971 570.5h4M972.5 568v4M971 569.5h4M972.5 567v4M971 568.5h4M972.5 566v4M971 567.5h4M972.5 565v4M971 566.5h4M972.5 564v4M972 565.5h4M973.5 563v4M972 564.5h4M973.5 562v4M972 563.5h4M973.5 561v4M972 562.5h4M973.5 560v4M972 561.5h4M973.5 559v4M972 560.5h4M973.5 558v4M973 559.5h4M974.5 557v4M973 558.5h4M974.5 556v4M973 557.5h4M974.5 555v4M974 556.5h4M975.5 554v4M975 555.5h4M976.5 553v4M976 554.5h4M977.5 552v4M977 555.5h4M978.5 553v4M978 556.5h4M979.5 554v4M979 557.5h4M980.5 555v4M980 558.5h4M981.5 556v4M981 558.5h4M982.5 556v4M982 559.5h4M983.5 557v4M983 559.5h4M984.5 557v4M984 559.5h4M985.5 557v4M985 560.5h4M986.5 558v4M986 560.5h4M987.5 558v4" stroke="#000" stroke-width="1" fill="none"/><path d="M544 425.5h4M545.5 423v4M544 429.5h4M545.5 427v4M543 432.5h4M544.5 430v4M543 434.5h4M544.5 432v4M543 438.5h4M544.5 436v4M543 440.5h4M544.5 438v4M543 443.5h4M544.5 441v4M543 446.5h4M544.5 444v4M543 448.5h4M544.5 446v4M543 452.5h4M544.5 450v4M542 455.5h4M543.5 453v4M542 458.5h4M543.5 456v4M542 460.5h4M543.5 458v4M542 463.5h4M543.5 461v4M542 466.5h4M543.5 464v4" stroke="#00f" stroke-width="1" fill="none"/><path d="M542 440.5h4M543.5 438v4M542 448.5h4M543.5 446v4M542 455.5h4M543.5 453v4M542 462.5h4M543.5 460v4M541 470.5h4M542.5 468v4M541 477.5h4M542.5 475v4" stroke="#0f0" stroke-width="1" fill="none"/><path d="M79 586.5h4M80.5 584v4M80 586.5h4M81.5 584v4M81 586.5h4M82.5 584v4M82 586.5h4M83.5 584v4M83 586.5h4M84.5 584v4M83 585.5h4M84.5 583v4M83 584.5h4M84.5 582v4M84 583.5h4M85.5 581v4M84 582.5h4M85.5 580v4M84 583.5h4M85.5 581v4M85 584.5h4M86.5 582v4M85 585.5h4M86.5 583v4M85 586.5h4M86.5 584v4M86 586.5h4M87.5 584v4M87 586.5h4M88.5 584v4M88 586.5h4M89.5 584v4M89 586.5h4M90.5 584v4M90 586.5h4M91.5 584v4M91 586.5h4M92.5 584v4M92 586.5h4M93.5 584v4M93 586.5h4M94.5 584v4M94 586.5h4M95.5 584v4M80 587.5h4M81.5 585v4M81 587.5h4M82.5 585v4M82 587.5h4M83.5 585v4M83 587.5h4M84.5 585v4M84 587.5h4M85.5 585v4M85 587.5h4M86.5 585v4M86 587.5h4M87.5 585v4M87 587.5h4M88.5 585v4M88 587.5h4M89.5 585v4M89 587.5h4M90.5 585v4M90 587.5h4M91.5 585v4M91 587.5h4M92.5 585v4M92 587.5h4M93.5 585v4M93 587.5h4M94.5 585v4M94 587.5h4M95.5 585v4M98 577.5h4M99.5 575v4M100 577.5h4M101.5 575v4M103 575.5h4M104.5 573v4" stroke="#000" stroke-width="1" fill="none"/><path d="M94 584.5h4M95.5 582v4M95 584.5h4M96.5 582v4M97 582.5h4M98.5 580v4M98 580.5h4M99.5 578v4M99 578.5h4M100.5 576v4M100 577.5h4M101.5 575v4M101 575.5h4M102.5 573v4" stroke="#f00" stroke-width="1" fill="none"/><path d="M99 578.5h4M100.5 576v4M101 578.5h4M102.5 576v4M103 580.5h4M104.5 578v4M106 582.5h4M107.5 580v4M107 584.5h4M108.5 582v4" stroke="#000" stroke-width="1" fill="none"/><path d="M101 576.5h4M102.5 574v4M103 577.5h4M104.5 575v4M105 579.5h4M106.5 577v4M106 581.5h4M107.5 579v4" stroke="#f00" stroke-width="1" fill="none"/><path d="M115 584.5h4M116.5 582v4M117 582.5h4M118.5 580v4M119 580.5h4M120.5 578v4M121 581.5h4M122.5 579v4M124 582.5h4M125.5 580v4M126 584.5h4M127.5 582v4M128 586.5h4M129.5 584v4M130 585.5h4M131.5 583v4M132 586.5h4M133.5 584v4M134 585.5h4M135.5 583v4M136 587.5h4M137.5 585v4M138 585.5h4M139.5 583v4" stroke="#000" stroke-width="1" fill="none"/><path d="M116 583.5h4M117.5 581v4M118 583.5h4M119.5 581v4M120 581.5h4M121.5 579v4M129 584.5h4M130.5 582v4M134 586.5h4M135.5 584v4M138 583.5h4M139.5 581v4" stroke="#f00" stroke-width="1" fill="none"/><path d="M109 586.5h4M110.5 584v4M111 585.5h4M112.5 583v4M112 586.5h4M113.5 584v4M113 584.5h4M114.5 582v4M115 583.5h4M116.5 581v4M117 583.5h4M118.5 581v4M119 581.5h4M120.5 579v4M120 582.5h4M121.5 580v4M122 582.5h4M123.5 580v4M124 582.5h4M125.5 580v4M126 584.5h4M127.5 582v4M128 586.5h4M129.5 584v4M130 585.5h4M131.5 583v4M131 585.5h4M132.5 583v4M132 586.5h4M133.5 584v4M134 585.5h4M135.5 583v4M136 585.5h4M137.5 583v4M137 586.5h4M138.5 584v4M138 585.5h4M139.5 583v4" stroke="#000" stroke-width="1" fill="none"/><path d="M111 587.5h4M112.5 585v4M114 586.5h4M115.5 584v4M117 583.5h4M118.5 581v4M120 582.5h4M121.5 580v4M123 581.5h4M124.5 579v4M126 583.5h4M127.5 581v4M129 584.5h4M130.5 582v4M132 586.5h4M133.5 584v4M136 587.5h4M137.5 585v4" stroke="#f00" stroke-width="1" fill="none"/><path d="M887 590.5h4M888.5 588v4M889 591.5h4M890.5 589v4M891 591.5h4M892.5 589v4M893 588.5h4M894.5 586v4M895 587.5h4M896.5 585v4M897 589.5h4M898.5 587v4M899 589.5h4M900.5 587v4M901 587.5h4M902.5 585v4M903 586.5h4M904.5 584v4M905 587.5h4M906.5 585v4M907 585.5h4M908.5 583v4M909 585.5h4M910.5 583v4M911 586.5h4M912.5 584v4M913 583.5h4M914.5 581v4M915 582.5h4M916.5 580v4M917 582.5h4M918.5 580v4M919 581.5h4M920.5 579v4M922 583.5h4M923.5 581v4M924 583.5h4M925.5 581v4M926 582.5h4M927.5 580v4M929 582.5h4M930.5 580v4M931 579.5h4M932.5 577v4M933 580.5h4M934.5 578v4M935 582.5h4M936.5 580v4M937 582.5h4M938.5 580v4M939 582.5h4M940.5 580v4M942 579.5h4M943.5 577v4M945 582.5h4M946.5 580v4M947 581.5h4M948.5 579v4M949 580.5h4M950.5 578v4M950 577.5h4M951.5 575v4M952 574.5h4M953.5 572v4M954 575.5h4M955.5 573v4M956 571.5h4M957.5 569v4M958 570.5h4M959.5 568v4M960 568.5h4M961.5 566v4M962 566.5h4M963.5 564v4M963 568.5h4M964.5 566v4M964 570.5h4M965.5 568v4M964 574.5h4M965.5 572v4M965 576.5h4M966.5 574v4M967 575.5h4M968.5 573v4" stroke="#000" stroke-width="1" fill="none"/><path d="M899 587.5h4M900.5 585v4M905 586.5h4M906.5 584v4M911 585.5h4M912.5 583v4M917 582.5h4M918.5 580v4M924 585.5h4M925.5 583v4M931 579.5h4M932.5 577v4M937 583.5h4M938.5 581v4M942 577.5h4M943.5 575v4M947 582.5h4M948.5 580v4M952 573.5h4M953.5 571v4M957 568.5h4M958.5 566v4" stroke="#f00" stroke-width="1" fill="none"/><path d="M924 584.5h4M925.5 582v4M931 579.5h4M932.5 577v4M937 583.5h4M938.5 581v4M942 577.5h4M943.5 575v4M947 581.5h4M948.5 579v4M950 577.5h4M951.5 575v4M952 574.5h4M953.5 572v4M957 569.5h4M958.5 567v4M962 566.5h4M963.5 564v4M966 570.5h4M967.5 568v4" stroke="#0f0" stroke-width="1" fill="none"/><path d="M169 584.5h4M170.5 582v4M172 585.5h4M173.5 583v4M174 585.5h4M175.5 583v4M176 588.5h4M177.5 586v4M178 589.5h4M179.5 587v4M180 588.5h4M181.5 586v4M182 588.5h4M183.5 586v4M184 589.5h4M185.5 587v4M187 589.5h4M188.5 587v4M189 590.5h4M190.5 588v4M191 589.5h4M192.5 587v4M193 590.5h4M194.5 588v4M195 590.5h4M196.5 588v4M198 590.5h4M199.5 588v4M200 591.5h4M201.5 589v4M202 591.5h4M203.5 589v4M204 590.5h4M205.5 588v4M207 590.5h4M208.5 588v4M209 589.5h4M210.5 587v4M210 590.5h4M211.5 588v4M213 589.5h4M214.5 587v4M215 591.5h4M216.5 589v4M217 589.5h4M218.5 587v4M219 589.5h4M220.5 587v4M221 590.5h4M222.5 588v4M223 589.5h4M224.5 587v4M225 590.5h4M226.5 588v4M227 590.5h4M228.5 588v4M229 591.5h4M230.5 589v4M231 590.5h4M232.5 588v4M233 592.5h4M234.5 590v4M235 590.5h4M236.5 588v4M237 592.5h4M238.5 590v4M239 590.5h4M240.5 588v4M241 592.5h4M242.5 590v4M244 592.5h4M245.5 590v4M246 591.5h4M247.5 589v4M248 591.5h4M249.5 589v4M250 591.5h4M251.5 589v4M252 591.5h4M253.5 589v4M254 592.5h4M255.5 590v4M256 592.5h4M257.5 590v4M258 591.5h4M259.5 589v4M260 592.5h4M261.5 590v4M262 592.5h4M263.5 590v4M264 593.5h4M265.5 591v4M266 592.5h4M267.5 590v4M268 591.5h4M269.5 589v4M270 592.5h4M271.5 590v4M272 592.5h4M273.5 590v4M274 593.5h4M275.5 591v4M276 592.5h4M277.5 590v4M279 594.5h4M280.5 592v4M280 595.5h4M281.5 593v4M283 595.5h4M284.5 593v4M285 596.5h4M286.5 594v4M287 594.5h4M288.5 592v4M289 596.5h4M290.5 594v4M291 595.5h4M292.5 593v4M293 595.5h4M294.5 593v4M295 597.5h4M296.5 595v4M297 596.5h4M298.5 594v4M299 597.5h4M300.5 595v4M301 596.5h4M302.5 594v4M303 595.5h4M304.5 593v4M305 596.5h4M306.5 594v4M307 595.5h4M308.5 593v4M335 589.5h4M336.5 587v4M338 593.5h4M339.5 591v4M340 595.5h4M341.5 593v4M343 595.5h4M344.5 593v4M345 597.5h4M346.5 595v4M347 597.5h4M348.5 595v4M349 599.5h4M350.5 597v4M351 598.5h4M352.5 596v4M353 599.5h4M354.5 597v4M355 600.5h4M356.5 598v4M357 598.5h4M358.5 596v4M360 598.5h4M361.5 596v4M362 599.5h4M363.5 597v4M364 599.5h4M365.5 597v4M366 601.5h4M367.5 599v4M368 601.5h4M369.5 599v4M370 600.5h4M371.5 598v4M372 602.5h4M373.5 600v4M374 600.5h4M375.5 598v4M376 599.5h4M377.5 597v4M378 600.5h4M379.5 598v4M380 598.5h4M381.5 596v4M382 598.5h4M383.5 596v4M384 598.5h4M385.5 596v4M386 599.5h4M387.5 597v4M389 598.5h4M390.5 596v4M391 599.5h4M392.5 597v4M393 600.5h4M394.5 598v4M395 599.5h4M396.5 597v4M397 598.5h4M398.5 596v4M399 597.5h4M400.5 595v4M401 597.5h4M402.5 595v4M403 597.5h4M404.5 595v4M405 596.5h4M406.5 594v4M408 595.5h4M409.5 593v4M410 595.5h4M411.5 593v4M412 593.5h4M413.5 591v4M414 595.5h4M415.5 593v4M417 595.5h4M418.5 593v4M419 594.5h4M420.5 592v4M422 596.5h4M423.5 594v4M424 594.5h4M425.5 592v4M426 596.5h4M427.5 594v4M428 597.5h4M429.5 595v4M470 563.5h4M471.5 561v4M472 561.5h4M473.5 559v4M474 562.5h4M475.5 560v4M477 561.5h4M478.5 559v4M479 560.5h4M480.5 558v4M481 562.5h4M482.5 560v4M483 563.5h4M484.5 561v4M485 565.5h4M486.5 563v4M487 564.5h4M488.5 562v4M489 565.5h4M490.5 563v4M491 565.5h4M492.5 563v4M493 564.5h4M494.5 562v4M495 565.5h4M496.5 563v4M497 564.5h4M498.5 562v4M499 565.5h4M500.5 563v4M501 565.5h4M502.5 563v4M503 567.5h4M504.5 565v4M505 566.5h4M506.5 564v4M507 565.5h4M508.5 563v4M509 567.5h4M510.5 565v4M511 566.5h4M512.5 564v4M513 566.5h4M514.5 564v4M515 566.5h4M516.5 564v4M517 565.5h4M518.5 563v4M519 566.5h4M520.5 564v4M521 566.5h4M522.5 564v4M523 565.5h4M524.5 563v4M525 567.5h4M526.5 565v4M527 566.5h4M528.5 564v4M529 565.5h4M530.5 563v4" stroke="#000" stroke-width="1" fill="none"/><path d="M552 479.5h4M553.5 477v4M552 481.5h4M553.5 479v4M552 485.5h4M553.5 483v4M552 486.5h4M553.5 484v4M552 488.5h4M553.5 486v4M551 491.5h4M552.5 489v4M550 496.5h4M551.5 494v4M550 498.5h4M551.5 496v4M551 501.5h4M552.5 499v4M551 503.5h4M552.5 501v4M77 445.5h4M78.5 443v4M81 473.5h4M82.5 471v4M102 474.5h4M103.5 472v4M113 463.5h4M114.5 461v4M222 460.5h4M223.5 458v4M229 470.5h4M230.5 468v4" stroke="#00f" stroke-width="1" fill="none"/><path d="M91 445.5h4M92.5 443v4M99 438.5h4M100.5 436v4M107 426.5h4M108.5 424v4M116 435.5h4M117.5 433v4M124 442.5h4M125.5 440v4M132 447.5h4M133.5 445v4M115 493.5h4M116.5 491v4M158 452.5h4M159.5 450v4M175 436.5h4M176.5 434v4M177 463.5h4M178.5 461v4M183 437.5h4M184.5 435v4M192 432.5h4M193.5 430v4M200 450.5h4M201.5 448v4M208 431.5h4M209.5 429v4M217 436.5h4M218.5 434v4M225 437.5h4M226.5 435v4M234 431.5h4M235.5 429v4M189 506.5h4M190.5 504v4M166 508.5h4M167.5 506v4" stroke="#000" stroke-width="1" fill="none"/><path d="M106 472.5h4M107.5 470v4M122 518.5h4M123.5 516v4M222 502.5h4M223.5 500v4" stroke="#f00" stroke-width="1" fill="none"/><path d="M116 505.5h4M117.5 503v4M222 476.5h4M223.5 474v4M183 502.5h4M184.5 500v4M169 512.5h4M170.5 510v4" stroke="#0f0" stroke-width="1" fill="none"/><path d="M92 536.5h4M93.5 534v4M92 556.5h4M93.5 554v4M90 562.5h4M91.5 560v4M101 569.5h4M102.5 567v4M171 537.5h4M172.5 535v4M204 554.5h4M205.5 552v4M155 584.5h4M156.5 582v4M159 593.5h4M160.5 591v4M159 570.5h4M160.5 568v4M159 572.5h4M160.5 570v4M168 560.5h4M169.5 558v4M169 571.5h4M170.5 569v4M169 578.5h4M170.5 576v4M171 584.5h4M172.5 582v4M160 608.5h4M161.5 606v4M186 586.5h4M187.5 584v4M194 589.5h4M195.5 587v4M198 589.5h4M199.5 587v4M205 589.5h4M206.5 587v4" stroke="#f00" stroke-width="1" fill="none"/><path d="M104 544.5h4M105.5 542v4M101 566.5h4M102.5 564v4M107 574.5h4M108.5 572v4M112 577.5h4M113.5 575v4M115 584.5h4M116.5 582v4M190 523.5h4M191.5 521v4M178 548.5h4M179.5 546v4M196 537.5h4M197.5 535v4M218 575.5h4M219.5 573v4" stroke="#00f" stroke-width="1" fill="none"/><path d="M111 546.5h4M112.5 544v4M109 586.5h4M110.5 584v4M158 562.5h4M159.5 560v4M158 575.5h4M159.5 573v4M159 579.5h4M160.5 577v4M168 575.5h4M169.5 573v4M168 583.5h4M169.5 581v4M216 590.5h4M217.5 588v4M231 538.5h4M232.5 536v4" stroke="#0f0" stroke-width="1" fill="none"/><path d="M134 543.5h4M135.5 541v4M132 557.5h4M133.5 555v4M135 561.5h4M136.5 559v4M123 591.5h4M124.5 589v4M101 597.5h4M102.5 595v4M154 583.5h4M155.5 581v4M159 588.5h4M160.5 586v4M159 567.5h4M160.5 565v4M168 558.5h4M169.5 556v4M169 570.5h4M170.5 568v4M163 607.5h4M164.5 605v4M165 607.5h4M166.5 605v4M188 557.5h4M189.5 555v4M222 579.5h4M223.5 577v4" stroke="#000" stroke-width="1" fill="none"/><path d="M134 643.5h4M135.5 641v4" stroke="#00f" stroke-width="1" fill="none"/><path d="M139 642.5h4M140.5 640v4M136 658.5h4M137.5 656v4M141 657.5h4M142.5 655v4M150 664.5h4M151.5 662v4M157 663.5h4M158.5 661v4M82 347.5h4M83.5 345v4M250 427.5h4M251.5 425v4M259 428.5h4M260.5 426v4M267 426.5h4M268.5 424v4M284 428.5h4M285.5 426v4M292 430.5h4M293.5 428v4M301 430.5h4M302.5 428v4M318 434.5h4M319.5 432v4M334 438.5h4M335.5 436v4M342 425.5h4M343.5 423v4M351 436.5h4M352.5 434v4M360 444.5h4M361.5 442v4M362 446.5h4M363.5 444v4M361 455.5h4M362.5 453v4M364 467.5h4M365.5 465v4M365 472.5h4M366.5 470v4M376 427.5h4M377.5 425v4M385 433.5h4M386.5 431v4M393 438.5h4M394.5 436v4M368 438.5h4M369.5 436v4M242 447.5h4M243.5 445v4M276 446.5h4M277.5 444v4M309 452.5h4M310.5 450v4M283 458.5h4M284.5 456v4M297 466.5h4M298.5 464v4M346 479.5h4M347.5 477v4" stroke="#000" stroke-width="1" fill="none"/><path d="M317 431.5h4M318.5 429v4M253 468.5h4M254.5 466v4M242 497.5h4M243.5 495v4M340 465.5h4M341.5 463v4M344 474.5h4M345.5 472v4M345 473.5h4M346.5 471v4" stroke="#00f" stroke-width="1" fill="none"/><path d="M238 465.5h4M239.5 463v4M280 488.5h4M281.5 486v4" stroke="#0f0" stroke-width="1" fill="none"/><path d="M355 430.5h4M356.5 428v4M376 481.5h4M377.5 479v4" stroke="#f00" stroke-width="1" fill="none"/><path d="M249 506.5h4M250.5 504v4M385 509.5h4M386.5 507v4M335 543.5h4M336.5 541v4M299 589.5h4M300.5 587v4" stroke="#0f0" stroke-width="1" fill="none"/><path d="M250 513.5h4M251.5 511v4M276 514.5h4M277.5 512v4M244 545.5h4M245.5 543v4M302 566.5h4M303.5 564v4M247 590.5h4M248.5 588v4M322 592.5h4M323.5 590v4M323 611.5h4M324.5 609v4M326 617.5h4M327.5 615v4M331 602.5h4M332.5 600v4M329 621.5h4M330.5 619v4" stroke="#f00" stroke-width="1" fill="none"/><path d="M281 516.5h4M282.5 514v4M346 502.5h4M347.5 500v4M262 537.5h4M263.5 535v4M305 537.5h4M306.5 535v4M277 563.5h4M278.5 561v4M272 572.5h4M273.5 570v4M391 578.5h4M392.5 576v4M342 587.5h4M343.5 585v4M322 605.5h4M323.5 603v4M328 630.5h4M329.5 628v4" stroke="#00f" stroke-width="1" fill="none"/><path d="M313 518.5h4M314.5 516v4M326 531.5h4M327.5 529v4M390 513.5h4M391.5 511v4M302 574.5h4M303.5 572v4M379 562.5h4M380.5 560v4M381 562.5h4M382.5 560v4M377 591.5h4M378.5 589v4M297 589.5h4M298.5 587v4M324 629.5h4M325.5 627v4M325 628.5h4M326.5 626v4" stroke="#000" stroke-width="1" fill="none"/><path d="M404 501.5h4M405.5 499v4M461 555.5h4M462.5 553v4M486 504.5h4M487.5 502v4M506 530.5h4M507.5 528v4" stroke="#f00" stroke-width="1" fill="none"/><path d="M408 510.5h4M409.5 508v4M417 565.5h4M418.5 563v4M402 585.5h4M403.5 583v4M458 535.5h4M459.5 533v4M477 556.5h4M478.5 554v4M486 515.5h4M487.5 513v4M486 520.5h4M487.5 518v4M501 525.5h4M502.5 523v4M516 502.5h4M517.5 500v4M544 527.5h4M545.5 525v4M444 583.5h4M445.5 581v4M440 587.5h4M441.5 585v4" stroke="#000" stroke-width="1" fill="none"/><path d="M459 521.5h4M460.5 519v4M486 506.5h4M487.5 504v4M546 524.5h4M547.5 522v4M550 505.5h4M551.5 503v4" stroke="#0f0" stroke-width="1" fill="none"/><path d="M418 526.5h4M419.5 524v4M484 518.5h4M485.5 516v4M484 530.5h4M485.5 528v4M482 546.5h4M483.5 544v4M551 502.5h4M552.5 500v4M445 567.5h4M446.5 565v4" stroke="#00f" stroke-width="1" fill="none"/><path d="M493 223.5h4M494.5 221v4M485 237.5h4M486.5 235v4M544 247.5h4M545.5 245v4M477 272.5h4M478.5 270v4M490 284.5h4M491.5 282v4M569 289.5h4M570.5 287v4M489 316.5h4M490.5 314v4M477 332.5h4M478.5 330v4M488 330.5h4M489.5 328v4M491 329.5h4M492.5 327v4M552 323.5h4M553.5 321v4M489 339.5h4M490.5 337v4M492 339.5h4M493.5 337v4M499 344.5h4M500.5 342v4M488 346.5h4M489.5 344v4" stroke="#000" stroke-width="1" fill="none"/><path d="M491 285.5h4M492.5 283v4M492 286.5h4M493.5 284v4M487 325.5h4M488.5 323v4M497 326.5h4M498.5 324v4M502 326.5h4M503.5 324v4M496 333.5h4M497.5 331v4" stroke="#f00" stroke-width="1" fill="none"/><path d="M496 301.5h4M497.5 299v4M493 321.5h4M494.5 319v4M494 340.5h4M495.5 338v4M477 348.5h4M478.5 346v4" stroke="#00f" stroke-width="1" fill="none"/><path d="M492 345.5h4M493.5 343v4M490 349.5h4M491.5 347v4" stroke="#0f0" stroke-width="1" fill="none"/><path d="M489 344.5h4M490.5 342v4M488 346.5h4M489.5 344v4M488 347.5h4M489.5 345v4M486 359.5h4M487.5 357v4M494 362.5h4M495.5 360v4M485 367.5h4M486.5 365v4M497 369.5h4M498.5 367v4M460 376.5h4M461.5 374v4M491 380.5h4M492.5 378v4M510 380.5h4M511.5 378v4M499 380.5h4M500.5 378v4M447 388.5h4M448.5 386v4M465 388.5h4M466.5 386v4M469 388.5h4M470.5 386v4M483 383.5h4M484.5 381v4M481 385.5h4M482.5 383v4M480 388.5h4M481.5 386v4M479 389.5h4M480.5 387v4M475 390.5h4M476.5 388v4M479 394.5h4M480.5 392v4M475 399.5h4M476.5 397v4M468 397.5h4M469.5 395v4M468 402.5h4M469.5 400v4M491 393.5h4M492.5 391v4M493 394.5h4M494.5 392v4M490 394.5h4M491.5 392v4M502 393.5h4M503.5 391v4M518 400.5h4M519.5 398v4M445 410.5h4M446.5 408v4M426 413.5h4M427.5 411v4M454 413.5h4M455.5 411v4M474 409.5h4M475.5 407v4M486 406.5h4M487.5 404v4M502 407.5h4M503.5 405v4M511 407.5h4M512.5 405v4M514 410.5h4M515.5 408v4M500 384.5h4M501.5 382v4M502 386.5h4M503.5 384v4" stroke="#000" stroke-width="1" fill="none"/><path d="M493 346.5h4M494.5 344v4M491 349.5h4M492.5 347v4M486 371.5h4M487.5 369v4M500 378.5h4M501.5 376v4M497 380.5h4M498.5 378v4M447 390.5h4M448.5 388v4M447 392.5h4M448.5 390v4M447 394.5h4M448.5 392v4M476 389.5h4M477.5 387v4M485 389.5h4M486.5 387v4M485 394.5h4M486.5 392v4M480 408.5h4M481.5 406v4M485 410.5h4M486.5 408v4M507 412.5h4M508.5 410v4M499 385.5h4M500.5 383v4M501 388.5h4M502.5 386v4M498 396.5h4M499.5 394v4" stroke="#0f0" stroke-width="1" fill="none"/><path d="M496 352.5h4M497.5 350v4M491 356.5h4M492.5 354v4M487 362.5h4M488.5 360v4M492 365.5h4M493.5 363v4M483 366.5h4M484.5 364v4M482 398.5h4M483.5 396v4M491 398.5h4M492.5 396v4M507 395.5h4M508.5 393v4M504 396.5h4M505.5 394v4M509 400.5h4M510.5 398v4M461 407.5h4M462.5 405v4M445 412.5h4M446.5 410v4M511 410.5h4M512.5 408v4M498 389.5h4M499.5 387v4" stroke="#f00" stroke-width="1" fill="none"/><path d="M488 352.5h4M489.5 350v4M487 356.5h4M488.5 354v4M486 373.5h4M487.5 371v4M483 395.5h4M484.5 393v4M492 397.5h4M493.5 395v4M511 402.5h4M512.5 400v4M465 398.5h4M466.5 396v4M465 404.5h4M466.5 402v4M463 405.5h4M464.5 403v4M465 407.5h4M466.5 405v4M463 410.5h4M464.5 408v4M453 408.5h4M454.5 406v4M481 413.5h4M482.5 411v4M487 408.5h4M488.5 406v4M497 384.5h4M498.5 382v4M495 384.5h4M496.5 382v4M496 385.5h4M497.5 383v4M500 385.5h4M501.5 383v4M500 385.5h4M501.5 383v4M502 385.5h4M503.5 383v4M494 387.5h4M495.5 385v4M496 386.5h4M497.5 384v4M500 388.5h4M501.5 386v4M501 387.5h4M502.5 385v4M493 390.5h4M494.5 388v4M495 389.5h4M496.5 387v4M497 390.5h4M498.5 388v4M498 390.5h4M499.5 388v4M502 390.5h4M503.5 388v4M503 390.5h4M504.5 388v4M493 392.5h4M494.5 390v4M494 392.5h4M495.5 390v4M497 392.5h4M498.5 390v4M499 392.5h4M500.5 390v4M501 392.5h4M502.5 390v4M503 392.5h4M504.5 390v4M491 394.5h4M492.5 392v4M495 394.5h4M496.5 392v4M496 393.5h4M497.5 391v4M499 395.5h4M500.5 393v4M502 394.5h4M503.5 392v4M492 396.5h4M493.5 394v4M494 396.5h4M495.5 394v4M498 395.5h4M499.5 393v4M499 397.5h4M500.5 395v4M502 397.5h4M503.5 395v4M495 398.5h4M496.5 396v4M497 398.5h4M498.5 396v4M498 398.5h4M499.5 396v4M501 399.5h4M502.5 397v4M495 399.5h4M496.5 397v4M498 400.5h4M499.5 398v4M489 401.5h4M490.5 399v4M492 402.5h4M493.5 400v4M496 400.5h4M497.5 398v4M499 401.5h4M500.5 399v4M486 406.5h4M487.5 404v4M490 405.5h4M491.5 403v4M492 405.5h4M493.5 403v4M496 406.5h4M497.5 404v4M498 405.5h4M499.5 403v4M484 409.5h4M485.5 407v4M487 409.5h4M488.5 407v4M491 407.5h4M492.5 405v4M495 407.5h4M496.5 405v4M498 409.5h4M499.5 407v4M483 412.5h4M484.5 410v4M486 412.5h4M487.5 410v4M489 413.5h4M490.5 411v4M492 413.5h4M493.5 411v4M497 413.5h4M498.5 411v4M498 411.5h4M499.5 409v4" stroke="#00f" stroke-width="1" fill="none"/><path d="M498 398.5h4M499.5 396v4M488 403.5h4M489.5 401v4M494 404.5h4M495.5 402v4M496 402.5h4M497.5 400v4M488 409.5h4M489.5 407v4M492 408.5h4M493.5 406v4M496 408.5h4M497.5 406v4M488 414.5h4M489.5 412v4M491 411.5h4M492.5 409v4M496 414.5h4M497.5 412v4" stroke="#000" stroke-width="1" fill="none"/><path d="M491 400.5h4M492.5 398v4M488 408.5h4M489.5 406v4M499 402.5h4M500.5 400v4M491 409.5h4M492.5 407v4M494 409.5h4M495.5 407v4" stroke="#f00" stroke-width="1" fill="none"/><path d="M495 382.5h4M496.5 380v4M494 389.5h4M495.5 387v4M501 387.5h4M502.5 385v4M504 385.5h4M505.5 383v4M492 394.5h4M493.5 392v4M499 392.5h4M500.5 390v4M503 389.5h4M504.5 387v4M494 396.5h4M495.5 394v4M501 399.5h4M502.5 397v4M483 405.5h4M484.5 403v4M487 406.5h4M488.5 404v4M496 401.5h4M497.5 399v4M500 404.5h4M501.5 402v4M488 410.5h4M489.5 408v4M492 411.5h4M493.5 409v4M483 414.5h4M484.5 412v4M486 413.5h4M487.5 411v4M494 412.5h4M495.5 410v4" stroke="#0f0" stroke-width="1" fill="none"/><path d="M497 385.5h4M498.5 383v4M496 389.5h4M497.5 387v4M501 387.5h4M502.5 385v4M495 392.5h4M496.5 390v4M502 396.5h4M503.5 394v4M490 401.5h4M491.5 399v4M495 403.5h4M496.5 401v4M488 410.5h4M489.5 408v4M496 405.5h4M497.5 403v4M498 405.5h4M499.5 403v4M485 413.5h4M486.5 411v4M489 412.5h4M490.5 410v4M494 412.5h4M495.5 410v4M499 414.5h4M500.5 412v4" stroke="#000" stroke-width="1" fill="none"/><path d="M442 418.5h4M443.5 416v4M444 417.5h4M445.5 415v4M446 417.5h4M447.5 415v4M443 421.5h4M444.5 419v4M447 421.5h4M448.5 419v4M442 422.5h4M443.5 420v4M443 423.5h4M444.5 421v4M447 423.5h4M448.5 421v4M442 424.5h4M443.5 422v4M444 425.5h4M445.5 423v4M446 424.5h4M447.5 422v4M460 411.5h4M461.5 409v4M464 411.5h4M465.5 409v4M464 413.5h4M465.5 411v4M463 416.5h4M464.5 414v4M465 415.5h4M466.5 413v4M464 418.5h4M465.5 416v4M460 421.5h4M461.5 419v4M462 423.5h4M463.5 421v4M461 426.5h4M462.5 424v4M462 426.5h4M463.5 424v4M464 429.5h4M465.5 427v4M462 430.5h4M463.5 428v4M463 433.5h4M464.5 431v4M464 436.5h4M465.5 434v4M462 441.5h4M463.5 439v4M466 440.5h4M467.5 438v4M462 444.5h4M463.5 442v4M465 444.5h4M466.5 442v4M463 446.5h4M464.5 444v4M480 412.5h4M481.5 410v4M484 412.5h4M485.5 410v4M489 412.5h4M490.5 410v4M491 412.5h4M492.5 410v4M494 412.5h4M495.5 410v4M481 414.5h4M482.5 412v4M486 413.5h4M487.5 411v4M490 415.5h4M491.5 413v4M493 414.5h4M494.5 412v4M494 415.5h4M495.5 413v4M499 414.5h4M500.5 412v4M483 417.5h4M484.5 415v4M487 418.5h4M488.5 416v4M488 418.5h4M489.5 416v4M491 419.5h4M492.5 417v4M496 417.5h4M497.5 415v4M499 418.5h4M500.5 416v4M486 420.5h4M487.5 418v4M489 419.5h4M490.5 417v4M493 421.5h4M494.5 419v4M494 421.5h4M495.5 419v4M498 420.5h4M499.5 418v4M486 422.5h4M487.5 420v4M489 422.5h4M490.5 420v4M491 425.5h4M492.5 423v4M495 423.5h4M496.5 421v4M498 423.5h4M499.5 421v4M486 427.5h4M487.5 425v4M490 426.5h4M491.5 424v4" stroke="#00f" stroke-width="1" fill="none"/><path d="M481 413.5h4M482.5 411v4M488 412.5h4M489.5 410v4M497 413.5h4M498.5 411v4M483 417.5h4M484.5 415v4M491 416.5h4M492.5 414v4M493 415.5h4M494.5 413v4M500 417.5h4M501.5 415v4M484 420.5h4M485.5 418v4M487 421.5h4M488.5 419v4M492 421.5h4M493.5 419v4M486 425.5h4M487.5 423v4M491 424.5h4M492.5 422v4M496 424.5h4M497.5 422v4" stroke="#000" stroke-width="1" fill="none"/><path d="M488 414.5h4M489.5 412v4M492 413.5h4M493.5 411v4M484 419.5h4M485.5 417v4M492 416.5h4M493.5 414v4M500 417.5h4M501.5 415v4M489 423.5h4M490.5 421v4M496 426.5h4M497.5 424v4" stroke="#f00" stroke-width="1" fill="none"/><path d="M443 414.5h4M444.5 412v4M451 415.5h4M452.5 413v4M455 414.5h4M456.5 412v4M457 424.5h4M458.5 422v4M453 439.5h4M454.5 437v4M435 436.5h4M436.5 434v4M436 445.5h4M437.5 443v4M444 453.5h4M445.5 451v4M451 450.5h4M452.5 448v4M451 454.5h4M452.5 452v4M460 452.5h4M461.5 450v4M466 450.5h4M467.5 448v4M436 482.5h4M437.5 480v4M465 411.5h4M466.5 409v4M473 422.5h4M474.5 420v4M490 426.5h4M491.5 424v4M495 429.5h4M496.5 427v4M489 431.5h4M490.5 429v4M489 441.5h4M490.5 439v4M489 446.5h4M490.5 444v4M490 454.5h4M491.5 452v4M490 456.5h4M491.5 454v4M489 460.5h4M490.5 458v4M472 449.5h4M473.5 447v4M484 450.5h4M485.5 448v4M484 464.5h4M485.5 462v4M484 466.5h4M485.5 464v4M483 470.5h4M484.5 468v4M491 469.5h4M492.5 467v4M500 477.5h4M501.5 475v4M501 468.5h4M502.5 466v4M503 462.5h4M504.5 460v4M503 434.5h4M504.5 432v4M486 413.5h4M487.5 411v4M491 417.5h4M492.5 415v4M496 415.5h4M497.5 413v4M474 413.5h4M475.5 411v4M512 416.5h4M513.5 414v4M511 421.5h4M512.5 419v4M517 425.5h4M518.5 423v4M507 427.5h4M508.5 425v4M513 432.5h4M514.5 430v4M514 431.5h4M515.5 429v4M517 435.5h4M518.5 433v4M516 439.5h4M517.5 437v4M510 441.5h4M511.5 439v4M505 441.5h4M506.5 439v4M516 453.5h4M517.5 451v4M507 455.5h4M508.5 453v4M509 466.5h4M510.5 464v4M507 473.5h4M508.5 471v4M506 476.5h4M507.5 474v4M506 478.5h4M507.5 476v4M512 482.5h4M513.5 480v4" stroke="#000" stroke-width="1" fill="none"/><path d="M444 412.5h4M445.5 410v4M442 426.5h4M443.5 424v4M455 428.5h4M456.5 426v4M467 441.5h4M468.5 439v4M460 432.5h4M461.5 430v4M482 417.5h4M483.5 415v4M482 421.5h4M483.5 419v4M499 419.5h4M500.5 417v4M489 436.5h4M490.5 434v4M483 454.5h4M484.5 452v4M487 474.5h4M488.5 472v4M491 477.5h4M492.5 475v4M486 477.5h4M487.5 475v4M509 433.5h4M510.5 431v4M514 442.5h4M515.5 440v4M508 461.5h4M509.5 459v4M505 470.5h4M506.5 468v4M516 469.5h4M517.5 467v4M516 472.5h4M517.5 470v4M516 475.5h4M517.5 473v4M516 478.5h4M517.5 476v4M516 480.5h4M517.5 478v4" stroke="#f00" stroke-width="1" fill="none"/><path d="M447 415.5h4M448.5 413v4M447 425.5h4M448.5 423v4M443 428.5h4M444.5 426v4M457 431.5h4M458.5 429v4M434 449.5h4M435.5 447v4M453 447.5h4M454.5 445v4M474 415.5h4M475.5 413v4M481 428.5h4M482.5 426v4M488 422.5h4M489.5 420v4M477 432.5h4M478.5 430v4M476 440.5h4M477.5 438v4M476 446.5h4M477.5 444v4M484 436.5h4M485.5 434v4M489 451.5h4M490.5 449v4M495 471.5h4M496.5 469v4M511 425.5h4M512.5 423v4M508 435.5h4M509.5 433v4M507 472.5h4M508.5 470v4M515 462.5h4M516.5 460v4M517 466.5h4M518.5 464v4" stroke="#0f0" stroke-width="1" fill="none"/><path d="M445 435.5h4M446.5 433v4M446 435.5h4M447.5 433v4M453 432.5h4M454.5 430v4M452 431.5h4M453.5 429v4M472 419.5h4M473.5 417v4M485 423.5h4M486.5 421v4M494 425.5h4M495.5 423v4M498 424.5h4M499.5 422v4M477 435.5h4M478.5 433v4M476 449.5h4M477.5 447v4M480 452.5h4M481.5 450v4M480 456.5h4M481.5 454v4M484 460.5h4M485.5 458v4M484 458.5h4M485.5 456v4M491 472.5h4M492.5 470v4M487 480.5h4M488.5 478v4M509 427.5h4M510.5 425v4M508 445.5h4M509.5 443v4M513 445.5h4M514.5 443v4M511 449.5h4M512.5 447v4M514 450.5h4M515.5 448v4M508 464.5h4M509.5 462v4M514 459.5h4M515.5 457v4M517 458.5h4M518.5 456v4M515 461.5h4M516.5 459v4M513 464.5h4M514.5 462v4M517 463.5h4M518.5 461v4" stroke="#00f" stroke-width="1" fill="none"/><path d="M421 492.5h4M422.5 490v4M514 485.5h4M515.5 483v4" stroke="#f00" stroke-width="1" fill="none"/><path d="M441 491.5h4M442.5 489v4M456 488.5h4M457.5 486v4M481 490.5h4M482.5 488v4M501 486.5h4M502.5 484v4M502 494.5h4M503.5 492v4M512 483.5h4M513.5 481v4M518 487.5h4M519.5 485v4M518 489.5h4M519.5 487v4M513 497.5h4M514.5 495v4M538 491.5h4M539.5 489v4M557 498.5h4M558.5 496v4" stroke="#000" stroke-width="1" fill="none"/><path d="M486 490.5h4M487.5 488v4M486 494.5h4M487.5 492v4" stroke="#00f" stroke-width="1" fill="none"/><path d="M535 411.5h4M536.5 409v4M517 436.5h4M518.5 434v4M516 439.5h4M517.5 437v4M517 441.5h4M518.5 439v4M533 450.5h4M534.5 448v4M537 453.5h4M538.5 451v4M516 453.5h4M517.5 451v4M547 462.5h4M548.5 460v4M523 463.5h4M524.5 461v4M522 465.5h4M523.5 463v4M526 473.5h4M527.5 471v4M555 468.5h4M556.5 466v4M564 470.5h4M565.5 468v4M578 430.5h4M579.5 428v4M594 431.5h4M595.5 429v4M602 419.5h4M603.5 417v4M599 441.5h4M600.5 439v4M561 419.5h4M562.5 417v4M537 436.5h4M538.5 434v4" stroke="#000" stroke-width="1" fill="none"/><path d="M539 414.5h4M540.5 412v4M561 436.5h4M562.5 434v4M537 463.5h4M538.5 461v4M522 465.5h4M523.5 463v4M520 470.5h4M521.5 468v4M554 475.5h4M555.5 473v4M571 484.5h4M572.5 482v4M573 471.5h4M574.5 469v4M576 472.5h4M577.5 470v4M574 479.5h4M575.5 477v4M596 468.5h4M597.5 466v4" stroke="#f00" stroke-width="1" fill="none"/><path d="M544 419.5h4M545.5 417v4M532 435.5h4M533.5 433v4M530 462.5h4M531.5 460v4M526 477.5h4M527.5 475v4M579 477.5h4M580.5 475v4M583 475.5h4M584.5 473v4M584 481.5h4M585.5 479v4M562 483.5h4M563.5 481v4M541 445.5h4M542.5 443v4M556 474.5h4M557.5 472v4" stroke="#0f0" stroke-width="1" fill="none"/><path d="M534 425.5h4M535.5 423v4M548 414.5h4M549.5 412v4M549 417.5h4M550.5 415v4M548 420.5h4M549.5 418v4M562 445.5h4M563.5 443v4M567 448.5h4M568.5 446v4M537 437.5h4M538.5 435v4M521 457.5h4M522.5 455v4M528 461.5h4M529.5 459v4M527 479.5h4M528.5 477v4M556 477.5h4M557.5 475v4M551 481.5h4M552.5 479v4M561 480.5h4M562.5 478v4M564 480.5h4M565.5 478v4M586 477.5h4M587.5 475v4M594 484.5h4M595.5 482v4M612 423.5h4M613.5 421v4M526 465.5h4M527.5 463v4M525 466.5h4M526.5 464v4M527 466.5h4M528.5 464v4M529 466.5h4M530.5 464v4M525 468.5h4M526.5 466v4M528 468.5h4M529.5 466v4M532 459.5h4M533.5 457v4M534 458.5h4M535.5 456v4M533 460.5h4M534.5 458v4M536 460.5h4M537.5 458v4M537 460.5h4M538.5 458v4M532 464.5h4M533.5 462v4M534 462.5h4M535.5 460v4M538 464.5h4M539.5 462v4M532 466.5h4M533.5 464v4M534 466.5h4M535.5 464v4M538 464.5h4M539.5 462v4M534 467.5h4M535.5 465v4M535 467.5h4M536.5 465v4M538 469.5h4M539.5 467v4M539 467.5h4M540.5 465v4M531 469.5h4M532.5 467v4M535 472.5h4M536.5 470v4M537 470.5h4M538.5 468v4M530 472.5h4M531.5 470v4M533 474.5h4M534.5 472v4M534 473.5h4M535.5 471v4M538 472.5h4M539.5 470v4M539 474.5h4M540.5 472v4M531 475.5h4M532.5 473v4M533 477.5h4M534.5 475v4M534 476.5h4M535.5 474v4M536 475.5h4M537.5 473v4M531 477.5h4M532.5 475v4M532 479.5h4M533.5 477v4M535 478.5h4M536.5 476v4M537 479.5h4M538.5 477v4M531 480.5h4M532.5 478v4M532 480.5h4M533.5 478v4M535 480.5h4M536.5 478v4M536 481.5h4M537.5 479v4M539 481.5h4M540.5 479v4M533 483.5h4M534.5 481v4M536 482.5h4M537.5 480v4M538 483.5h4M539.5 481v4M571 472.5h4M572.5 470v4M575 472.5h4M576.5 470v4M567 472.5h4M568.5 470v4M569 473.5h4M570.5 471v4M570 473.5h4M571.5 471v4M572 473.5h4M573.5 471v4M574 473.5h4M575.5 471v4M575 474.5h4M576.5 472v4M567 476.5h4M568.5 474v4M568 474.5h4M569.5 472v4M569 474.5h4M570.5 472v4M573 475.5h4M574.5 473v4M574 476.5h4M575.5 474v4M576 475.5h4M577.5 473v4M568 478.5h4M569.5 476v4M569 476.5h4M570.5 474v4M572 476.5h4M573.5 474v4M574 478.5h4M575.5 476v4M576 477.5h4M577.5 475v4M567 478.5h4M568.5 476v4M568 479.5h4M569.5 477v4M570 478.5h4M571.5 476v4M573 478.5h4M574.5 476v4M573 480.5h4M574.5 478v4M577 479.5h4M578.5 477v4M568 481.5h4M569.5 479v4M569 480.5h4M570.5 478v4M572 480.5h4M573.5 478v4M574 482.5h4M575.5 480v4M577 481.5h4M578.5 479v4" stroke="#00f" stroke-width="1" fill="none"/><path d="M533 465.5h4M534.5 463v4M531 471.5h4M532.5 469v4M533 469.5h4M534.5 467v4M536 473.5h4M537.5 471v4M532 482.5h4M533.5 480v4M536 481.5h4M537.5 479v4M535 483.5h4M536.5 481v4" stroke="#0f0" stroke-width="1" fill="none"/><path d="M515 485.5h4M516.5 483v4M571 484.5h4M572.5 482v4M593 510.5h4M594.5 508v4" stroke="#f00" stroke-width="1" fill="none"/><path d="M561 486.5h4M562.5 484v4M587 487.5h4M588.5 485v4M593 489.5h4M594.5 487v4M599 497.5h4M600.5 495v4M590 526.5h4M591.5 524v4" stroke="#000" stroke-width="1" fill="none"/><path d="M531 486.5h4M532.5 484v4M533 487.5h4M534.5 485v4M561 501.5h4M562.5 499v4M560 504.5h4M561.5 502v4M558 487.5h4M559.5 485v4M584 481.5h4M585.5 479v4M604 498.5h4M605.5 496v4M587 500.5h4M588.5 498v4M598 502.5h4M599.5 500v4M588 514.5h4M589.5 512v4M601 515.5h4M602.5 513v4" stroke="#0f0" stroke-width="1" fill="none"/><path d="M561 481.5h4M562.5 479v4M564 486.5h4M565.5 484v4M571 487.5h4M572.5 485v4M566 497.5h4M567.5 495v4M594 484.5h4M595.5 482v4M610 503.5h4M611.5 501v4M567 488.5h4M568.5 486v4M569 488.5h4M570.5 486v4M566 491.5h4M567.5 489v4M568 491.5h4M569.5 489v4M567 492.5h4M568.5 490v4M567 493.5h4M568.5 491v4M566 496.5h4M567.5 494v4M565 497.5h4M566.5 495v4M569 498.5h4M570.5 496v4" stroke="#00f" stroke-width="1" fill="none"/><path d="M527 380.5h4M528.5 378v4M586 403.5h4M587.5 401v4" stroke="#000" stroke-width="1" fill="none"/><path d="M544 402.5h4M545.5 400v4M543 406.5h4M544.5 404v4M555 402.5h4M556.5 400v4" stroke="#0f0" stroke-width="1" fill="none"/><path d="M546 404.5h4M547.5 402v4" stroke="#00f" stroke-width="1" fill="none"/><path d="M569 399.5h4M570.5 397v4" stroke="#f00" stroke-width="1" fill="none"/><path d="M648 387.5h4M649.5 385v4M721 403.5h4M722.5 401v4M730 438.5h4M731.5 436v4M755 446.5h4M756.5 444v4M663 468.5h4M664.5 466v4M729 463.5h4M730.5 461v4M671 481.5h4M672.5 479v4" stroke="#0f0" stroke-width="1" fill="none"/><path d="M675 399.5h4M676.5 397v4M681 413.5h4M682.5 411v4M639 422.5h4M640.5 420v4M625 475.5h4M626.5 473v4M740 479.5h4M741.5 477v4M651 487.5h4M652.5 485v4M690 497.5h4M691.5 495v4" stroke="#f00" stroke-width="1" fill="none"/><path d="M670 404.5h4M671.5 402v4M678 403.5h4M679.5 401v4M720 400.5h4M721.5 398v4M754 397.5h4M755.5 395v4M636 408.5h4M637.5 406v4M644 412.5h4M645.5 410v4M653 408.5h4M654.5 406v4M695 409.5h4M696.5 407v4M703 414.5h4M704.5 412v4M712 410.5h4M713.5 408v4M729 411.5h4M730.5 409v4M737 414.5h4M738.5 412v4M627 422.5h4M628.5 420v4M661 426.5h4M662.5 424v4M687 426.5h4M688.5 424v4M619 434.5h4M620.5 432v4M657 440.5h4M658.5 438v4M662 455.5h4M663.5 453v4M737 485.5h4M738.5 483v4M659 498.5h4M660.5 496v4" stroke="#000" stroke-width="1" fill="none"/><path d="M665 429.5h4M666.5 427v4M645 443.5h4M646.5 441v4M654 482.5h4M655.5 480v4M705 480.5h4M706.5 478v4M747 483.5h4M748.5 481v4M616 488.5h4M617.5 486v4M622 489.5h4M623.5 487v4" stroke="#00f" stroke-width="1" fill="none"/><path d="M685 503.5h4M686.5 501v4M640 557.5h4M641.5 555v4M557 579.5h4M558.5 577v4" stroke="#f00" stroke-width="1" fill="none"/><path d="M629 518.5h4M630.5 516v4M700 519.5h4M701.5 517v4M700 521.5h4M701.5 519v4M643 540.5h4M644.5 538v4M592 577.5h4M593.5 575v4M692 580.5h4M693.5 578v4" stroke="#0f0" stroke-width="1" fill="none"/><path d="M657 513.5h4M658.5 511v4M669 528.5h4M670.5 526v4M709 531.5h4M710.5 529v4M661 547.5h4M662.5 545v4M628 560.5h4M629.5 558v4M647 560.5h4M648.5 558v4M665 564.5h4M666.5 562v4M679 562.5h4M680.5 560v4M703 563.5h4M704.5 561v4M557 586.5h4M558.5 584v4M564 586.5h4M565.5 584v4" stroke="#00f" stroke-width="1" fill="none"/><path d="M680 520.5h4M681.5 518v4M647 543.5h4M648.5 541v4M639 548.5h4M640.5 546v4M690 541.5h4M691.5 539v4M613 566.5h4M614.5 564v4M633 573.5h4M634.5 571v4M634 577.5h4M635.5 575v4M675 589.5h4M676.5 587v4M418 417.5h4M419.5 415v4M401 429.5h4M402.5 427v4M409 445.5h4M410.5 443v4" stroke="#000" stroke-width="1" fill="none"/><path d="M409 469.5h4M410.5 467v4M767 372.5h4M768.5 370v4M879 362.5h4M880.5 360v4M839 383.5h4M840.5 381v4M845 381.5h4M846.5 379v4M854 395.5h4M855.5 393v4M898 386.5h4M899.5 384v4" stroke="#00f" stroke-width="1" fill="none"/><path d="M787 391.5h4M788.5 389v4M802 388.5h4M803.5 386v4M821 395.5h4M822.5 393v4M837 386.5h4M838.5 384v4M846 386.5h4M847.5 384v4M855 382.5h4M856.5 380v4M871 382.5h4M872.5 380v4M897 381.5h4M898.5 379v4" stroke="#000" stroke-width="1" fill="none"/><path d="M804 393.5h4M805.5 391v4M832 390.5h4M833.5 388v4" stroke="#0f0" stroke-width="1" fill="none"/><path d="M762 404.5h4M763.5 402v4M796 403.5h4M797.5 401v4M863 401.5h4M864.5 399v4M771 411.5h4M772.5 409v4M804 407.5h4M805.5 405v4M829 410.5h4M830.5 408v4M833 415.5h4M834.5 413v4M875 416.5h4M876.5 414v4M774 430.5h4M775.5 428v4M835 442.5h4M836.5 440v4M890 497.5h4M891.5 495v4M845 518.5h4M846.5 516v4" stroke="#000" stroke-width="1" fill="none"/><path d="M800 403.5h4M801.5 401v4M817 431.5h4M818.5 429v4M862 457.5h4M863.5 455v4M761 482.5h4M762.5 480v4M886 519.5h4M887.5 517v4" stroke="#0f0" stroke-width="1" fill="none"/><path d="M825 403.5h4M826.5 401v4M826 414.5h4M827.5 412v4M807 441.5h4M808.5 439v4M845 448.5h4M846.5 446v4M871 460.5h4M872.5 458v4M788 483.5h4M789.5 481v4M879 498.5h4M880.5 496v4" stroke="#f00" stroke-width="1" fill="none"/><path d="M785 449.5h4M786.5 447v4M862 446.5h4M863.5 444v4M771 460.5h4M772.5 458v4M849 456.5h4M850.5 454v4M821 462.5h4M822.5 460v4M823 466.5h4M824.5 464v4M833 467.5h4M834.5 465v4M785 470.5h4M786.5 468v4M806 481.5h4M807.5 479v4M729 526.5h4M730.5 524v4M729 536.5h4M730.5 534v4M719 571.5h4M720.5 569v4M726 593.5h4M727.5 591v4M865 551.5h4M866.5 549v4M846 573.5h4M847.5 571v4" stroke="#00f" stroke-width="1" fill="none"/><path d="M752 534.5h4M753.5 532v4M735 559.5h4M736.5 557v4M738 575.5h4M739.5 573v4M795 557.5h4M796.5 555v4M801 578.5h4M802.5 576v4M853 525.5h4M854.5 523v4M825 570.5h4M826.5 568v4M833 586.5h4M834.5 584v4" stroke="#000" stroke-width="1" fill="none"/><path d="M747 568.5h4M748.5 566v4M804 532.5h4M805.5 530v4M830 527.5h4M831.5 525v4M869 565.5h4M870.5 563v4M830 576.5h4M831.5 574v4" stroke="#0f0" stroke-width="1" fill="none"/><path d="M772 551.5h4M773.5 549v4M774 590.5h4M775.5 588v4M853 594.5h4M854.5 592v4M865 590.5h4M866.5 588v4" stroke="#f00" stroke-width="1" fill="none"/><path d="M861 592.5h4M862.5 590v4" stroke="#0f0" stroke-width="1" fill="none"/><path d="M920 319.5h4M921.5 317v4" stroke="#00f" stroke-width="1" fill="none"/><path d="M930 363.5h4M931.5 361v4M973 362.5h4M974.5 360v4M981 365.5h4M982.5 363v4M955 373.5h4M956.5 371v4M947 384.5h4M948.5 382v4M964 384.5h4M965.5 382v4M922 394.5h4M923.5 392v4M939 392.5h4M940.5 390v4M905 401.5h4M906.5 399v4" stroke="#000" stroke-width="1" fill="none"/><path d="M959 397.5h4M960.5 395v4" stroke="#0f0" stroke-width="1" fill="none"/><path d="M952 430.5h4M953.5 428v4M933 445.5h4M934.5 443v4" stroke="#00f" stroke-width="1" fill="none"/><path d="M913 453.5h4M914.5 451v4M911 459.5h4M912.5 457v4M902 484.5h4M903.5 482v4" stroke="#f00" stroke-width="1" fill="none"/><path d="M908 470.5h4M909.5 468v4M986 475.5h4M987.5 473v4M986 504.5h4M987.5 502v4" stroke="#0f0" stroke-width="1" fill="none"/><path d="M947 471.5h4M948.5 469v4M916 484.5h4M917.5 482v4M958 486.5h4M959.5 484v4M921 513.5h4M922.5 511v4" stroke="#000" stroke-width="1" fill="none"/><path d="M950 518.5h4M951.5 516v4M882 523.5h4M883.5 521v4M879 526.5h4M880.5 524v4M889 533.5h4M890.5 531v4M914 557.5h4M915.5 555v4M888 583.5h4M889.5 581v4" stroke="#0f0" stroke-width="1" fill="none"/><path d="M906 532.5h4M907.5 530v4M899 540.5h4M900.5 538v4M952 540.5h4M953.5 538v4M906 548.5h4M907.5 546v4M887 568.5h4M888.5 566v4M908 575.5h4M909.5 573v4" stroke="#00f" stroke-width="1" fill="none"/><path d="M978 535.5h4M979.5 533v4M889 589.5h4M890.5 587v4M892 589.5h4M893.5 587v4M898 587.5h4M899.5 585v4M904 587.5h4M905.5 585v4M909 586.5h4M910.5 584v4M913 584.5h4M914.5 582v4M917 582.5h4M918.5 580v4M920 583.5h4M921.5 581v4M925 583.5h4M926.5 581v4M928 581.5h4M929.5 579v4M938 582.5h4M939.5 580v4M945 580.5h4M946.5 578v4M947 581.5h4M948.5 579v4M952 576.5h4M953.5 574v4M955 573.5h4M956.5 571v4M957 571.5h4M958.5 569v4M962 566.5h4M963.5 564v4M966 573.5h4M967.5 571v4M974 557.5h4M975.5 555v4M976 555.5h4M977.5 553v4M980 559.5h4M981.5 557v4M984 560.5h4M985.5 558v4M977 553.5h4M978.5 551v4" stroke="#f00" stroke-width="1" fill="none"/><path d="M905 587.5h4M906.5 585v4M931 578.5h4M932.5 576v4M934 581.5h4M935.5 579v4M943 577.5h4M944.5 575v4M949 582.5h4M950.5 580v4M955 574.5h4M956.5 572v4M960 568.5h4M961.5 566v4M965 576.5h4M966.5 574v4M968 577.5h4M969.5 575v4M970 575.5h4M971.5 573v4M971 568.5h4M972.5 566v4M972 563.5h4M973.5 561v4M969 574.5h4M970.5 572v4" stroke="#0f0" stroke-width="1" fill="none"/><path d="M975 553.5h4M976.5 551v4M969 571.5h4M970.5 569v4M970 572.5h4M971.5 570v4" stroke="#00f" stroke-width="1" fill="none"/><path d="M993 160.5h4M994.5 158v4M987 270.5h4M988.5 268v4" stroke="#000" stroke-width="1" fill="none"/><path d="M102 572.5h4M103.5 570v4M99 573.5h4M100.5 571v4M102 574.5h4M103.5 572v4M103 574.5h4M104.5 572v4M99 576.5h4M100.5 574v4M100 575.5h4M101.5 573v4M103 576.5h4M104.5 574v4M103 575.5h4M104.5 573v4M99 578.5h4M100.5 576v4M100 579.5h4M101.5 577v4M102 578.5h4M103.5 576v4M105 578.5h4M106.5 576v4M126 579.5h4M127.5 577v4M129 581.5h4M130.5 579v4M128 583.5h4M129.5 581v4M129 581.5h4M130.5 579v4" stroke="#f00" stroke-width="1" fill="none"/><path d="M127 578.5h4M128.5 576v4" stroke="#000" stroke-width="1" fill="none"/><path d="M101 569.5h4M102.5 567v4M112 587.5h4M113.5 585v4" stroke="#f00" stroke-width="1" fill="none"/><path d="M109 586.5h4M110.5 584v4" stroke="#0f0" stroke-width="1" fill="none"/><path d="M101 566.5h4M102.5 564v4M106 574.5h4M107.5 572v4M112 577.5h4M113.5 575v4M114 584.5h4M115.5 582v4" stroke="#00f" stroke-width="1" fill="none"/><path d="M550 496.5h4M551.5 494v4M549 503.5h4M550.5 501v4" stroke="#0f0" stroke-width="1" fill="none"/><rect x="74" y="25" width="938" height="2" fill="#000"/><rect x="74" y="705" width="938" height="2" fill="#000"/><rect x="74" y="25" width="2" height="682" fill="#000"/><rect x="1010" y="25" width="2" height="682" fill="#000"/><rect x="86.5" y="40.5" width="156" height="20" fill="#fff" stroke="#000" stroke-width="1"/><text transform="scale(1.14,1)" x="78.82 91.98 101.63 111.28 119.74 126.19 134.44 140.67 144.61 151.37 158.65 164.35 170.83 176.32 183.91 190.4 197.6" y="56" font-family="Liberation Serif, Times New Roman, serif" font-size="15" stroke="#000" stroke-width="0.3">MOLA Science Team</text><text transform="scale(0.93,1)" x="445.16 459.22 472.12 485.02 499.0 509.75 519.43 533.41 546.31 560.22 569.89 578.57 591.47 604.38 618.35 631.26 645.24 657.06 671.04" y="56" font-family="Liberation Sans, Arial, Helvetica, sans-serif" font-size="21" stroke="#000" stroke-width="0.3">Topography ap00332k</text><text transform="scale(0.95,1)" x="931.58 943.26 949.58 963.26 971.05 975.84 987.42 998.37 1008.53 1015.11" y="56" font-family="Liberation Sans, Arial, Helvetica, sans-serif" font-size="19" stroke="#000" stroke-width="0.3">V.E. 100:1</text><text transform="scale(0.95,1)" x="213.79 231.63 245.89 260.0 269.68 278.37 288.11 295.84 305.26 312.68 321.89 330.11" y="163" font-family="Liberation Sans, Arial, Helvetica, sans-serif" font-size="19" stroke="#000" stroke-width="0.3">MOLA 1 2 3 4</text><rect x="90" y="155" width="10" height="2" fill="#000"/><rect x="94" y="150" width="2" height="11" fill="#000"/><rect x="120" y="155" width="10" height="2" fill="#f00"/><rect x="124" y="150" width="2" height="11" fill="#f00"/><rect x="150" y="155" width="10" height="2" fill="#0f0"/><rect x="154" y="150" width="2" height="11" fill="#0f0"/><rect x="180" y="155" width="10" height="2" fill="#00f"/><rect x="184" y="150" width="2" height="11" fill="#00f"/><text transform="scale(0.94,1)" x="79.04" y="734" font-family="Liberation Sans, Arial, Helvetica, sans-serif" font-size="21" letter-spacing="1.6" stroke="#000" stroke-width="0.3" text-anchor="middle">0</text><text transform="scale(0.94,1)" x="270.53" y="734" font-family="Liberation Sans, Arial, Helvetica, sans-serif" font-size="21" letter-spacing="1.6" stroke="#000" stroke-width="0.3" text-anchor="middle">300</text><text transform="scale(0.94,1)" x="462.02" y="734" font-family="Liberation Sans, Arial, Helvetica, sans-serif" font-size="21" letter-spacing="1.6" stroke="#000" stroke-width="0.3" text-anchor="middle">600</text><text transform="scale(0.94,1)" x="653.51" y="734" font-family="Liberation Sans, Arial, Helvetica, sans-serif" font-size="21" letter-spacing="1.6" stroke="#000" stroke-width="0.3" text-anchor="middle">900</text><text transform="scale(0.94,1)" x="845.00" y="734" font-family="Liberation Sans, Arial, Helvetica, sans-serif" font-size="21" letter-spacing="1.6" stroke="#000" stroke-width="0.3" text-anchor="middle">1200</text><text transform="scale(0.94,1)" x="1036.49" y="734" font-family="Liberation Sans, Arial, Helvetica, sans-serif" font-size="21" letter-spacing="1.6" stroke="#000" stroke-width="0.3" text-anchor="middle">1500</text><text transform="scale(0.94,1)" x="66.06" y="114" font-family="Liberation Sans, Arial, Helvetica, sans-serif" font-size="21" letter-spacing="1.6" stroke="#000" stroke-width="0.3" text-anchor="end">20</text><text transform="scale(0.94,1)" x="66.06" y="214" font-family="Liberation Sans, Arial, Helvetica, sans-serif" font-size="21" letter-spacing="1.6" stroke="#000" stroke-width="0.3" text-anchor="end">15</text><text transform="scale(0.94,1)" x="66.06" y="314" font-family="Liberation Sans, Arial, Helvetica, sans-serif" font-size="21" letter-spacing="1.6" stroke="#000" stroke-width="0.3" text-anchor="end">10</text><text transform="scale(0.94,1)" x="66.06" y="414" font-family="Liberation Sans, Arial, Helvetica, sans-serif" font-size="21" letter-spacing="1.6" stroke="#000" stroke-width="0.3" text-anchor="end">5</text><text transform="scale(0.94,1)" x="66.06" y="514" font-family="Liberation Sans, Arial, Helvetica, sans-serif" font-size="21" letter-spacing="1.6" stroke="#000" stroke-width="0.3" text-anchor="end">0</text><text transform="scale(0.94,1)" x="66.06" y="614" font-family="Liberation Sans, Arial, Helvetica, sans-serif" font-size="21" letter-spacing="1.6" stroke="#000" stroke-width="0.3" text-anchor="end">-5</text><text transform="scale(0.94,1)" x="66.06" y="714" font-family="Liberation Sans, Arial, Helvetica, sans-serif" font-size="21" letter-spacing="1.6" stroke="#000" stroke-width="0.3" text-anchor="end">-10</text><text transform="scale(0.94,1)" x="577.45" y="760" font-family="Liberation Sans, Arial, Helvetica, sans-serif" font-size="23" letter-spacing="1.6" stroke="#000" stroke-width="0.3" text-anchor="middle">time from start of pass, seconds</text><text transform="translate(24,368) rotate(-90) scale(0.94,1)" x="0.93" y="0" font-family="Liberation Sans, Arial, Helvetica, sans-serif" font-size="23" letter-spacing="1.74" stroke="#000" stroke-width="0.3" text-anchor="middle">topography, km</text></svg></body></html>
